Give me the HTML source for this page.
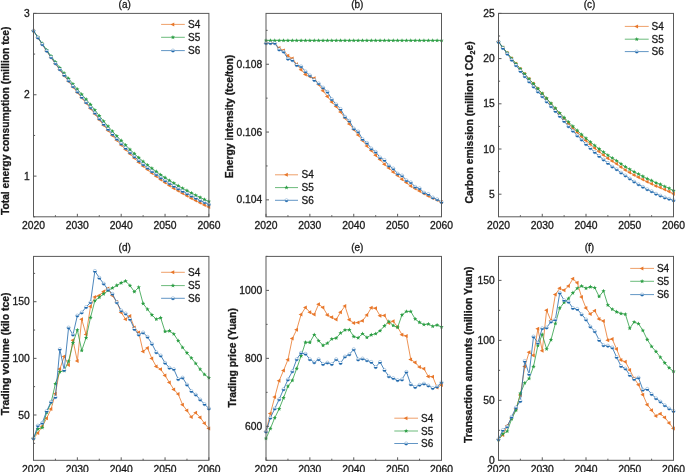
<!DOCTYPE html>
<html><head><meta charset="utf-8"><style>
html,body{margin:0;padding:0;background:#fff;width:685px;height:472px;overflow:hidden}
svg{display:block;will-change:transform}
text{font-family:"Liberation Sans",sans-serif;stroke:#1a1a1a;stroke-width:0.3px}
</style></head><body>
<svg width="685" height="472" viewBox="0 0 685 472" font-family="Liberation Sans, sans-serif">
<rect width="685" height="472" fill="#fff"/>
<text x="124.7" y="7.6" font-size="10" text-anchor="middle" fill="#1a1a1a">(a)</text>
<clipPath id="clipa"><rect x="30.5" y="10.4" width="181.4" height="209.4"/></clipPath>
<g clip-path="url(#clipa)">
<polyline points="33.5,30.7 37.88,37.69 42.27,44.5 46.66,51.12 51.04,57.56 55.42,63.8 59.81,69.82 64.19,75.65 68.58,81.33 72.97,86.91 77.35,92.45 81.73,97.85 86.12,103.12 90.51,108.41 94.89,113.91 99.28,119.78 103.66,125.18 108.05,130.38 112.43,135.39 116.81,140.23 121.2,144.89 125.59,149.43 129.97,153.85 134.36,158.11 138.74,162.17 143.12,166 147.51,169.62 151.9,173.07 156.28,176.36 160.67,179.5 165.05,182.51 169.44,185.39 173.82,188.14 178.2,190.79 182.59,193.34 186.97,195.81 191.36,198.2 195.75,200.52 200.13,202.77 204.52,204.93 208.9,207" fill="none" stroke="#E8772A" stroke-width="0.8" stroke-linejoin="round"/>
<path d="M31,30.7L34.8,28.7L34.8,32.7Z" fill="#E8772A"/>
<path d="M35.38,37.69L39.18,35.69L39.18,39.69Z" fill="#E8772A"/>
<path d="M39.77,44.5L43.57,42.5L43.57,46.5Z" fill="#E8772A"/>
<path d="M44.16,51.12L47.95,49.12L47.95,53.12Z" fill="#E8772A"/>
<path d="M48.54,57.56L52.34,55.56L52.34,59.56Z" fill="#E8772A"/>
<path d="M52.92,63.8L56.72,61.8L56.72,65.8Z" fill="#E8772A"/>
<path d="M57.31,69.82L61.11,67.82L61.11,71.82Z" fill="#E8772A"/>
<path d="M61.69,75.65L65.49,73.65L65.49,77.65Z" fill="#E8772A"/>
<path d="M66.08,81.33L69.88,79.33L69.88,83.33Z" fill="#E8772A"/>
<path d="M70.47,86.91L74.27,84.91L74.27,88.91Z" fill="#E8772A"/>
<path d="M74.85,92.45L78.65,90.45L78.65,94.45Z" fill="#E8772A"/>
<path d="M79.23,97.85L83.03,95.85L83.03,99.85Z" fill="#E8772A"/>
<path d="M83.62,103.12L87.42,101.12L87.42,105.12Z" fill="#E8772A"/>
<path d="M88.01,108.41L91.81,106.41L91.81,110.41Z" fill="#E8772A"/>
<path d="M92.39,113.91L96.19,111.91L96.19,115.91Z" fill="#E8772A"/>
<path d="M96.78,119.78L100.58,117.78L100.58,121.78Z" fill="#E8772A"/>
<path d="M101.16,125.18L104.96,123.18L104.96,127.18Z" fill="#E8772A"/>
<path d="M105.55,130.38L109.34,128.38L109.34,132.38Z" fill="#E8772A"/>
<path d="M109.93,135.39L113.73,133.39L113.73,137.39Z" fill="#E8772A"/>
<path d="M114.31,140.23L118.11,138.23L118.11,142.23Z" fill="#E8772A"/>
<path d="M118.7,144.89L122.5,142.89L122.5,146.89Z" fill="#E8772A"/>
<path d="M123.09,149.43L126.89,147.43L126.89,151.43Z" fill="#E8772A"/>
<path d="M127.47,153.85L131.27,151.85L131.27,155.85Z" fill="#E8772A"/>
<path d="M131.86,158.11L135.66,156.11L135.66,160.11Z" fill="#E8772A"/>
<path d="M136.24,162.17L140.04,160.17L140.04,164.17Z" fill="#E8772A"/>
<path d="M140.62,166L144.43,164L144.43,168Z" fill="#E8772A"/>
<path d="M145.01,169.62L148.81,167.62L148.81,171.62Z" fill="#E8772A"/>
<path d="M149.4,173.07L153.2,171.07L153.2,175.07Z" fill="#E8772A"/>
<path d="M153.78,176.36L157.58,174.36L157.58,178.36Z" fill="#E8772A"/>
<path d="M158.17,179.5L161.97,177.5L161.97,181.5Z" fill="#E8772A"/>
<path d="M162.55,182.51L166.35,180.51L166.35,184.51Z" fill="#E8772A"/>
<path d="M166.94,185.39L170.74,183.39L170.74,187.39Z" fill="#E8772A"/>
<path d="M171.32,188.14L175.12,186.14L175.12,190.14Z" fill="#E8772A"/>
<path d="M175.7,190.79L179.5,188.79L179.5,192.79Z" fill="#E8772A"/>
<path d="M180.09,193.34L183.89,191.34L183.89,195.34Z" fill="#E8772A"/>
<path d="M184.47,195.81L188.28,193.81L188.28,197.81Z" fill="#E8772A"/>
<path d="M188.86,198.2L192.66,196.2L192.66,200.2Z" fill="#E8772A"/>
<path d="M193.25,200.52L197.05,198.52L197.05,202.52Z" fill="#E8772A"/>
<path d="M197.63,202.77L201.43,200.77L201.43,204.77Z" fill="#E8772A"/>
<path d="M202.02,204.93L205.82,202.93L205.82,206.93Z" fill="#E8772A"/>
<path d="M206.4,207L210.2,205L210.2,209Z" fill="#E8772A"/>
<polyline points="33.5,30.7 37.88,37.21 42.27,43.64 46.66,49.93 51.04,56.05 55.42,61.99 59.81,67.72 64.19,73.25 68.58,78.65 72.97,83.96 77.35,89.24 81.73,94.38 86.12,99.39 90.51,104.62 94.89,110.05 99.28,115.85 103.66,121.19 108.05,126.33 112.43,131.27 116.81,136.05 121.2,140.65 125.59,145.13 129.97,149.48 134.36,153.68 138.74,157.68 143.12,161.45 147.51,165 151.9,168.39 156.28,171.62 160.67,174.7 165.05,177.65 169.44,180.47 173.82,183.16 178.2,185.75 182.59,188.24 186.97,190.65 191.36,192.99 195.75,195.25 200.13,197.43 204.52,199.54 208.9,201.55" fill="none" stroke="#2C9E44" stroke-width="0.8" stroke-linejoin="round"/>
<path d="M33.5,28.4L34.09,29.89L35.69,29.99L34.45,31.01L34.85,32.56L33.5,31.7L32.15,32.56L32.55,31.01L31.31,29.99L32.91,29.89Z" fill="#2C9E44"/>
<path d="M37.88,34.91L38.47,36.4L40.07,36.5L38.84,37.52L39.24,39.07L37.88,38.21L36.53,39.07L36.93,37.52L35.7,36.5L37.3,36.4Z" fill="#2C9E44"/>
<path d="M42.27,41.34L42.86,42.83L44.46,42.93L43.22,43.95L43.62,45.5L42.27,44.64L40.92,45.5L41.32,43.95L40.08,42.93L41.68,42.83Z" fill="#2C9E44"/>
<path d="M46.66,47.63L47.24,49.12L48.84,49.22L47.61,50.24L48.01,51.79L46.66,50.93L45.3,51.79L45.7,50.24L44.47,49.22L46.07,49.12Z" fill="#2C9E44"/>
<path d="M51.04,53.75L51.63,55.24L53.23,55.34L51.99,56.36L52.39,57.91L51.04,57.05L49.69,57.91L50.09,56.36L48.85,55.34L50.45,55.24Z" fill="#2C9E44"/>
<path d="M55.42,59.69L56.01,61.18L57.61,61.27L56.38,62.29L56.78,63.85L55.42,62.99L54.07,63.85L54.47,62.29L53.24,61.27L54.84,61.18Z" fill="#2C9E44"/>
<path d="M59.81,65.42L60.4,66.91L62,67L60.76,68.02L61.16,69.58L59.81,68.72L58.46,69.58L58.86,68.02L57.62,67L59.22,66.91Z" fill="#2C9E44"/>
<path d="M64.19,70.95L64.78,72.45L66.38,72.54L65.15,73.56L65.55,75.12L64.19,74.25L62.84,75.12L63.24,73.56L62.01,72.54L63.61,72.45Z" fill="#2C9E44"/>
<path d="M68.58,76.35L69.17,77.85L70.77,77.94L69.53,78.96L69.93,80.51L68.58,79.65L67.23,80.51L67.63,78.96L66.39,77.94L67.99,77.85Z" fill="#2C9E44"/>
<path d="M72.97,81.66L73.55,83.16L75.15,83.25L73.92,84.27L74.32,85.83L72.97,84.96L71.61,85.83L72.01,84.27L70.78,83.25L72.38,83.16Z" fill="#2C9E44"/>
<path d="M77.35,86.94L77.94,88.43L79.54,88.53L78.3,89.55L78.7,91.1L77.35,90.24L76,91.1L76.4,89.55L75.16,88.53L76.76,88.43Z" fill="#2C9E44"/>
<path d="M81.73,92.08L82.32,93.57L83.92,93.67L82.69,94.69L83.09,96.24L81.73,95.38L80.38,96.24L80.78,94.69L79.55,93.67L81.15,93.57Z" fill="#2C9E44"/>
<path d="M86.12,97.09L86.71,98.58L88.31,98.68L87.07,99.7L87.47,101.25L86.12,100.39L84.77,101.25L85.17,99.7L83.93,98.68L85.53,98.58Z" fill="#2C9E44"/>
<path d="M90.51,102.32L91.09,103.81L92.69,103.91L91.46,104.93L91.86,106.48L90.51,105.62L89.15,106.48L89.55,104.93L88.32,103.91L89.92,103.81Z" fill="#2C9E44"/>
<path d="M94.89,107.75L95.48,109.24L97.08,109.34L95.84,110.36L96.24,111.91L94.89,111.05L93.54,111.91L93.94,110.36L92.7,109.34L94.3,109.24Z" fill="#2C9E44"/>
<path d="M99.28,113.55L99.86,115.04L101.46,115.14L100.23,116.16L100.63,117.71L99.28,116.85L97.92,117.71L98.32,116.16L97.09,115.14L98.69,115.04Z" fill="#2C9E44"/>
<path d="M103.66,118.89L104.25,120.38L105.85,120.48L104.61,121.5L105.01,123.05L103.66,122.19L102.31,123.05L102.71,121.5L101.47,120.48L103.07,120.38Z" fill="#2C9E44"/>
<path d="M108.05,124.03L108.63,125.52L110.23,125.61L109,126.63L109.4,128.19L108.05,127.33L106.69,128.19L107.09,126.63L105.86,125.61L107.46,125.52Z" fill="#2C9E44"/>
<path d="M112.43,128.97L113.02,130.47L114.62,130.56L113.38,131.58L113.78,133.14L112.43,132.27L111.08,133.14L111.48,131.58L110.24,130.56L111.84,130.47Z" fill="#2C9E44"/>
<path d="M116.81,133.75L117.4,135.24L119,135.33L117.77,136.35L118.17,137.91L116.81,137.05L115.46,137.91L115.86,136.35L114.63,135.33L116.23,135.24Z" fill="#2C9E44"/>
<path d="M121.2,138.35L121.79,139.84L123.39,139.94L122.15,140.96L122.55,142.51L121.2,141.65L119.85,142.51L120.25,140.96L119.01,139.94L120.61,139.84Z" fill="#2C9E44"/>
<path d="M125.59,142.83L126.17,144.32L127.77,144.42L126.54,145.44L126.94,146.99L125.59,146.13L124.23,146.99L124.63,145.44L123.4,144.42L125,144.32Z" fill="#2C9E44"/>
<path d="M129.97,147.18L130.56,148.67L132.16,148.77L130.92,149.79L131.32,151.34L129.97,150.48L128.62,151.34L129.02,149.79L127.78,148.77L129.38,148.67Z" fill="#2C9E44"/>
<path d="M134.36,151.38L134.94,152.87L136.54,152.97L135.31,153.99L135.71,155.54L134.36,154.68L133,155.54L133.4,153.99L132.17,152.97L133.77,152.87Z" fill="#2C9E44"/>
<path d="M138.74,155.38L139.33,156.87L140.93,156.97L139.69,157.99L140.09,159.54L138.74,158.68L137.39,159.54L137.79,157.99L136.55,156.97L138.15,156.87Z" fill="#2C9E44"/>
<path d="M143.12,159.15L143.71,160.64L145.31,160.74L144.08,161.76L144.48,163.31L143.12,162.45L141.77,163.31L142.17,161.76L140.94,160.74L142.54,160.64Z" fill="#2C9E44"/>
<path d="M147.51,162.7L148.1,164.2L149.7,164.29L148.46,165.31L148.86,166.87L147.51,166L146.16,166.87L146.56,165.31L145.32,164.29L146.92,164.2Z" fill="#2C9E44"/>
<path d="M151.9,166.09L152.48,167.58L154.08,167.68L152.85,168.7L153.25,170.25L151.9,169.39L150.54,170.25L150.94,168.7L149.71,167.68L151.31,167.58Z" fill="#2C9E44"/>
<path d="M156.28,169.32L156.87,170.81L158.47,170.91L157.23,171.93L157.63,173.48L156.28,172.62L154.93,173.48L155.33,171.93L154.09,170.91L155.69,170.81Z" fill="#2C9E44"/>
<path d="M160.67,172.4L161.25,173.89L162.85,173.99L161.62,175.01L162.02,176.56L160.67,175.7L159.31,176.56L159.71,175.01L158.48,173.99L160.08,173.89Z" fill="#2C9E44"/>
<path d="M165.05,175.35L165.64,176.84L167.24,176.94L166,177.96L166.4,179.51L165.05,178.65L163.7,179.51L164.1,177.96L162.86,176.94L164.46,176.84Z" fill="#2C9E44"/>
<path d="M169.44,178.17L170.02,179.66L171.62,179.76L170.39,180.78L170.79,182.33L169.44,181.47L168.08,182.33L168.48,180.78L167.25,179.76L168.85,179.66Z" fill="#2C9E44"/>
<path d="M173.82,180.86L174.41,182.36L176.01,182.45L174.77,183.47L175.17,185.03L173.82,184.16L172.47,185.03L172.87,183.47L171.63,182.45L173.23,182.36Z" fill="#2C9E44"/>
<path d="M178.2,183.45L178.79,184.94L180.39,185.04L179.16,186.06L179.56,187.61L178.2,186.75L176.85,187.61L177.25,186.06L176.02,185.04L177.62,184.94Z" fill="#2C9E44"/>
<path d="M182.59,185.94L183.18,187.43L184.78,187.53L183.54,188.55L183.94,190.1L182.59,189.24L181.24,190.1L181.64,188.55L180.4,187.53L182,187.43Z" fill="#2C9E44"/>
<path d="M186.97,188.35L187.56,189.84L189.16,189.94L187.93,190.96L188.33,192.51L186.97,191.65L185.62,192.51L186.02,190.96L184.79,189.94L186.39,189.84Z" fill="#2C9E44"/>
<path d="M191.36,190.69L191.95,192.18L193.55,192.28L192.31,193.3L192.71,194.85L191.36,193.99L190.01,194.85L190.41,193.3L189.17,192.28L190.77,192.18Z" fill="#2C9E44"/>
<path d="M195.75,192.95L196.33,194.44L197.93,194.54L196.7,195.56L197.1,197.11L195.75,196.25L194.39,197.11L194.79,195.56L193.56,194.54L195.16,194.44Z" fill="#2C9E44"/>
<path d="M200.13,195.13L200.72,196.62L202.32,196.72L201.08,197.74L201.48,199.29L200.13,198.43L198.78,199.29L199.18,197.74L197.94,196.72L199.54,196.62Z" fill="#2C9E44"/>
<path d="M204.52,197.24L205.1,198.73L206.7,198.82L205.47,199.84L205.87,201.4L204.52,200.54L203.16,201.4L203.56,199.84L202.33,198.82L203.93,198.73Z" fill="#2C9E44"/>
<path d="M208.9,199.25L209.49,200.74L211.09,200.84L209.85,201.86L210.25,203.41L208.9,202.55L207.55,203.41L207.95,201.86L206.71,200.84L208.31,200.74Z" fill="#2C9E44"/>
<polyline points="33.5,30.7 37.88,37.6 42.27,44.32 46.66,50.87 51.04,57.23 55.42,63.4 59.81,69.35 64.19,75.11 68.58,80.71 72.97,86.23 77.35,91.7 81.73,97.04 86.12,102.24 90.51,107.47 94.89,112.9 99.28,118.7 103.66,124.04 108.05,129.18 112.43,134.12 116.81,138.9 121.2,143.5 125.59,147.98 129.97,152.33 134.36,156.53 138.74,160.53 143.12,164.3 147.51,167.85 151.9,171.24 156.28,174.47 160.67,177.55 165.05,180.5 169.44,183.32 173.82,186.01 178.2,188.6 182.59,191.09 186.97,193.5 191.36,195.84 195.75,198.1 200.13,200.28 204.52,202.39 208.9,204.4" fill="none" stroke="#1F68AC" stroke-width="0.8" stroke-linejoin="round"/>
<circle cx="33.5" cy="30.7" r="1.65" fill="#fff" stroke="#1F68AC" stroke-opacity="0.6" stroke-width="0.5"/><path d="M31.75,30.6A1.75,1.75 0 0 0 35.25,30.6Z" fill="#1F68AC"/>
<circle cx="37.88" cy="37.6" r="1.65" fill="#fff" stroke="#1F68AC" stroke-opacity="0.6" stroke-width="0.5"/><path d="M36.13,37.5A1.75,1.75 0 0 0 39.63,37.5Z" fill="#1F68AC"/>
<circle cx="42.27" cy="44.32" r="1.65" fill="#fff" stroke="#1F68AC" stroke-opacity="0.6" stroke-width="0.5"/><path d="M40.52,44.22A1.75,1.75 0 0 0 44.02,44.22Z" fill="#1F68AC"/>
<circle cx="46.66" cy="50.87" r="1.65" fill="#fff" stroke="#1F68AC" stroke-opacity="0.6" stroke-width="0.5"/><path d="M44.91,50.77A1.75,1.75 0 0 0 48.41,50.77Z" fill="#1F68AC"/>
<circle cx="51.04" cy="57.23" r="1.65" fill="#fff" stroke="#1F68AC" stroke-opacity="0.6" stroke-width="0.5"/><path d="M49.29,57.13A1.75,1.75 0 0 0 52.79,57.13Z" fill="#1F68AC"/>
<circle cx="55.42" cy="63.4" r="1.65" fill="#fff" stroke="#1F68AC" stroke-opacity="0.6" stroke-width="0.5"/><path d="M53.67,63.3A1.75,1.75 0 0 0 57.17,63.3Z" fill="#1F68AC"/>
<circle cx="59.81" cy="69.35" r="1.65" fill="#fff" stroke="#1F68AC" stroke-opacity="0.6" stroke-width="0.5"/><path d="M58.06,69.25A1.75,1.75 0 0 0 61.56,69.25Z" fill="#1F68AC"/>
<circle cx="64.19" cy="75.11" r="1.65" fill="#fff" stroke="#1F68AC" stroke-opacity="0.6" stroke-width="0.5"/><path d="M62.44,75.01A1.75,1.75 0 0 0 65.94,75.01Z" fill="#1F68AC"/>
<circle cx="68.58" cy="80.71" r="1.65" fill="#fff" stroke="#1F68AC" stroke-opacity="0.6" stroke-width="0.5"/><path d="M66.83,80.61A1.75,1.75 0 0 0 70.33,80.61Z" fill="#1F68AC"/>
<circle cx="72.97" cy="86.23" r="1.65" fill="#fff" stroke="#1F68AC" stroke-opacity="0.6" stroke-width="0.5"/><path d="M71.22,86.13A1.75,1.75 0 0 0 74.72,86.13Z" fill="#1F68AC"/>
<circle cx="77.35" cy="91.7" r="1.65" fill="#fff" stroke="#1F68AC" stroke-opacity="0.6" stroke-width="0.5"/><path d="M75.6,91.6A1.75,1.75 0 0 0 79.1,91.6Z" fill="#1F68AC"/>
<circle cx="81.73" cy="97.04" r="1.65" fill="#fff" stroke="#1F68AC" stroke-opacity="0.6" stroke-width="0.5"/><path d="M79.98,96.94A1.75,1.75 0 0 0 83.48,96.94Z" fill="#1F68AC"/>
<circle cx="86.12" cy="102.24" r="1.65" fill="#fff" stroke="#1F68AC" stroke-opacity="0.6" stroke-width="0.5"/><path d="M84.37,102.14A1.75,1.75 0 0 0 87.87,102.14Z" fill="#1F68AC"/>
<circle cx="90.51" cy="107.47" r="1.65" fill="#fff" stroke="#1F68AC" stroke-opacity="0.6" stroke-width="0.5"/><path d="M88.76,107.37A1.75,1.75 0 0 0 92.26,107.37Z" fill="#1F68AC"/>
<circle cx="94.89" cy="112.9" r="1.65" fill="#fff" stroke="#1F68AC" stroke-opacity="0.6" stroke-width="0.5"/><path d="M93.14,112.8A1.75,1.75 0 0 0 96.64,112.8Z" fill="#1F68AC"/>
<circle cx="99.28" cy="118.7" r="1.65" fill="#fff" stroke="#1F68AC" stroke-opacity="0.6" stroke-width="0.5"/><path d="M97.53,118.6A1.75,1.75 0 0 0 101.03,118.6Z" fill="#1F68AC"/>
<circle cx="103.66" cy="124.04" r="1.65" fill="#fff" stroke="#1F68AC" stroke-opacity="0.6" stroke-width="0.5"/><path d="M101.91,123.94A1.75,1.75 0 0 0 105.41,123.94Z" fill="#1F68AC"/>
<circle cx="108.05" cy="129.18" r="1.65" fill="#fff" stroke="#1F68AC" stroke-opacity="0.6" stroke-width="0.5"/><path d="M106.3,129.08A1.75,1.75 0 0 0 109.8,129.08Z" fill="#1F68AC"/>
<circle cx="112.43" cy="134.12" r="1.65" fill="#fff" stroke="#1F68AC" stroke-opacity="0.6" stroke-width="0.5"/><path d="M110.68,134.02A1.75,1.75 0 0 0 114.18,134.02Z" fill="#1F68AC"/>
<circle cx="116.81" cy="138.9" r="1.65" fill="#fff" stroke="#1F68AC" stroke-opacity="0.6" stroke-width="0.5"/><path d="M115.06,138.8A1.75,1.75 0 0 0 118.56,138.8Z" fill="#1F68AC"/>
<circle cx="121.2" cy="143.5" r="1.65" fill="#fff" stroke="#1F68AC" stroke-opacity="0.6" stroke-width="0.5"/><path d="M119.45,143.4A1.75,1.75 0 0 0 122.95,143.4Z" fill="#1F68AC"/>
<circle cx="125.59" cy="147.98" r="1.65" fill="#fff" stroke="#1F68AC" stroke-opacity="0.6" stroke-width="0.5"/><path d="M123.84,147.88A1.75,1.75 0 0 0 127.34,147.88Z" fill="#1F68AC"/>
<circle cx="129.97" cy="152.33" r="1.65" fill="#fff" stroke="#1F68AC" stroke-opacity="0.6" stroke-width="0.5"/><path d="M128.22,152.23A1.75,1.75 0 0 0 131.72,152.23Z" fill="#1F68AC"/>
<circle cx="134.36" cy="156.53" r="1.65" fill="#fff" stroke="#1F68AC" stroke-opacity="0.6" stroke-width="0.5"/><path d="M132.61,156.43A1.75,1.75 0 0 0 136.11,156.43Z" fill="#1F68AC"/>
<circle cx="138.74" cy="160.53" r="1.65" fill="#fff" stroke="#1F68AC" stroke-opacity="0.6" stroke-width="0.5"/><path d="M136.99,160.43A1.75,1.75 0 0 0 140.49,160.43Z" fill="#1F68AC"/>
<circle cx="143.12" cy="164.3" r="1.65" fill="#fff" stroke="#1F68AC" stroke-opacity="0.6" stroke-width="0.5"/><path d="M141.38,164.2A1.75,1.75 0 0 0 144.88,164.2Z" fill="#1F68AC"/>
<circle cx="147.51" cy="167.85" r="1.65" fill="#fff" stroke="#1F68AC" stroke-opacity="0.6" stroke-width="0.5"/><path d="M145.76,167.75A1.75,1.75 0 0 0 149.26,167.75Z" fill="#1F68AC"/>
<circle cx="151.9" cy="171.24" r="1.65" fill="#fff" stroke="#1F68AC" stroke-opacity="0.6" stroke-width="0.5"/><path d="M150.15,171.14A1.75,1.75 0 0 0 153.65,171.14Z" fill="#1F68AC"/>
<circle cx="156.28" cy="174.47" r="1.65" fill="#fff" stroke="#1F68AC" stroke-opacity="0.6" stroke-width="0.5"/><path d="M154.53,174.37A1.75,1.75 0 0 0 158.03,174.37Z" fill="#1F68AC"/>
<circle cx="160.67" cy="177.55" r="1.65" fill="#fff" stroke="#1F68AC" stroke-opacity="0.6" stroke-width="0.5"/><path d="M158.92,177.45A1.75,1.75 0 0 0 162.42,177.45Z" fill="#1F68AC"/>
<circle cx="165.05" cy="180.5" r="1.65" fill="#fff" stroke="#1F68AC" stroke-opacity="0.6" stroke-width="0.5"/><path d="M163.3,180.4A1.75,1.75 0 0 0 166.8,180.4Z" fill="#1F68AC"/>
<circle cx="169.44" cy="183.32" r="1.65" fill="#fff" stroke="#1F68AC" stroke-opacity="0.6" stroke-width="0.5"/><path d="M167.69,183.22A1.75,1.75 0 0 0 171.19,183.22Z" fill="#1F68AC"/>
<circle cx="173.82" cy="186.01" r="1.65" fill="#fff" stroke="#1F68AC" stroke-opacity="0.6" stroke-width="0.5"/><path d="M172.07,185.91A1.75,1.75 0 0 0 175.57,185.91Z" fill="#1F68AC"/>
<circle cx="178.2" cy="188.6" r="1.65" fill="#fff" stroke="#1F68AC" stroke-opacity="0.6" stroke-width="0.5"/><path d="M176.45,188.5A1.75,1.75 0 0 0 179.95,188.5Z" fill="#1F68AC"/>
<circle cx="182.59" cy="191.09" r="1.65" fill="#fff" stroke="#1F68AC" stroke-opacity="0.6" stroke-width="0.5"/><path d="M180.84,190.99A1.75,1.75 0 0 0 184.34,190.99Z" fill="#1F68AC"/>
<circle cx="186.97" cy="193.5" r="1.65" fill="#fff" stroke="#1F68AC" stroke-opacity="0.6" stroke-width="0.5"/><path d="M185.22,193.4A1.75,1.75 0 0 0 188.72,193.4Z" fill="#1F68AC"/>
<circle cx="191.36" cy="195.84" r="1.65" fill="#fff" stroke="#1F68AC" stroke-opacity="0.6" stroke-width="0.5"/><path d="M189.61,195.74A1.75,1.75 0 0 0 193.11,195.74Z" fill="#1F68AC"/>
<circle cx="195.75" cy="198.1" r="1.65" fill="#fff" stroke="#1F68AC" stroke-opacity="0.6" stroke-width="0.5"/><path d="M194,198A1.75,1.75 0 0 0 197.5,198Z" fill="#1F68AC"/>
<circle cx="200.13" cy="200.28" r="1.65" fill="#fff" stroke="#1F68AC" stroke-opacity="0.6" stroke-width="0.5"/><path d="M198.38,200.18A1.75,1.75 0 0 0 201.88,200.18Z" fill="#1F68AC"/>
<circle cx="204.52" cy="202.39" r="1.65" fill="#fff" stroke="#1F68AC" stroke-opacity="0.6" stroke-width="0.5"/><path d="M202.77,202.29A1.75,1.75 0 0 0 206.27,202.29Z" fill="#1F68AC"/>
<circle cx="208.9" cy="204.4" r="1.65" fill="#fff" stroke="#1F68AC" stroke-opacity="0.6" stroke-width="0.5"/><path d="M207.15,204.3A1.75,1.75 0 0 0 210.65,204.3Z" fill="#1F68AC"/>
</g>
<rect x="33.5" y="13.4" width="175.4" height="203.4" fill="none" stroke="#5a5a5a" stroke-width="1"/>
<line x1="33.5" y1="216.8" x2="33.5" y2="213.8" stroke="#5a5a5a" stroke-width="1"/>
<text x="33.5" y="229.1" font-size="10.35" text-anchor="middle" fill="#1a1a1a">2020</text>
<line x1="55.42" y1="216.8" x2="55.42" y2="215.2" stroke="#5a5a5a" stroke-width="1"/>
<line x1="77.35" y1="216.8" x2="77.35" y2="213.8" stroke="#5a5a5a" stroke-width="1"/>
<text x="77.35" y="229.1" font-size="10.35" text-anchor="middle" fill="#1a1a1a">2030</text>
<line x1="99.28" y1="216.8" x2="99.28" y2="215.2" stroke="#5a5a5a" stroke-width="1"/>
<line x1="121.2" y1="216.8" x2="121.2" y2="213.8" stroke="#5a5a5a" stroke-width="1"/>
<text x="121.2" y="229.1" font-size="10.35" text-anchor="middle" fill="#1a1a1a">2040</text>
<line x1="143.12" y1="216.8" x2="143.12" y2="215.2" stroke="#5a5a5a" stroke-width="1"/>
<line x1="165.05" y1="216.8" x2="165.05" y2="213.8" stroke="#5a5a5a" stroke-width="1"/>
<text x="165.05" y="229.1" font-size="10.35" text-anchor="middle" fill="#1a1a1a">2050</text>
<line x1="186.97" y1="216.8" x2="186.97" y2="215.2" stroke="#5a5a5a" stroke-width="1"/>
<line x1="208.9" y1="216.8" x2="208.9" y2="213.8" stroke="#5a5a5a" stroke-width="1"/>
<text x="208.9" y="229.1" font-size="10.35" text-anchor="middle" fill="#1a1a1a">2060</text>
<line x1="33.5" y1="176.12" x2="36.5" y2="176.12" stroke="#5a5a5a" stroke-width="1"/>
<text x="29.7" y="179.72" font-size="10.3" text-anchor="end" fill="#1a1a1a">1</text>
<line x1="33.5" y1="94.76" x2="36.5" y2="94.76" stroke="#5a5a5a" stroke-width="1"/>
<text x="29.7" y="98.36" font-size="10.3" text-anchor="end" fill="#1a1a1a">2</text>
<line x1="33.5" y1="13.4" x2="36.5" y2="13.4" stroke="#5a5a5a" stroke-width="1"/>
<text x="29.7" y="17" font-size="10.3" text-anchor="end" fill="#1a1a1a">3</text>
<line x1="33.5" y1="216.8" x2="35.1" y2="216.8" stroke="#5a5a5a" stroke-width="1"/>
<line x1="33.5" y1="135.44" x2="35.1" y2="135.44" stroke="#5a5a5a" stroke-width="1"/>
<line x1="33.5" y1="54.08" x2="35.1" y2="54.08" stroke="#5a5a5a" stroke-width="1"/>
<text transform="translate(8.8,120.8) rotate(-90)" font-size="10.3" font-weight="bold" stroke-width="0.1" text-anchor="middle" fill="#1a1a1a">Total energy consumption (million tce)</text>
<line x1="161.1" y1="24.4" x2="184.8" y2="24.4" stroke="#E8772A" stroke-width="0.7"/>
<path d="M170.45,24.4L174.25,22.4L174.25,26.4Z" fill="#E8772A"/>
<text x="188.0" y="28" font-size="10" fill="#1a1a1a">S4</text>
<line x1="161.1" y1="37.3" x2="184.8" y2="37.3" stroke="#2C9E44" stroke-width="0.7"/>
<path d="M172.95,35L173.54,36.49L175.14,36.59L173.9,37.61L174.3,39.16L172.95,38.3L171.6,39.16L172,37.61L170.76,36.59L172.36,36.49Z" fill="#2C9E44"/>
<text x="188.0" y="40.9" font-size="10" fill="#1a1a1a">S5</text>
<line x1="161.1" y1="50.6" x2="184.8" y2="50.6" stroke="#1F68AC" stroke-width="0.7"/>
<circle cx="172.95" cy="50.6" r="1.65" fill="#fff" stroke="#1F68AC" stroke-opacity="0.6" stroke-width="0.5"/><path d="M171.2,50.5A1.75,1.75 0 0 0 174.7,50.5Z" fill="#1F68AC"/>
<text x="188.0" y="54.2" font-size="10" fill="#1a1a1a">S6</text>
<text x="357.25" y="7.6" font-size="10" text-anchor="middle" fill="#1a1a1a">(b)</text>
<clipPath id="clipb"><rect x="263.0" y="10.4" width="181.5" height="209.4"/></clipPath>
<g clip-path="url(#clipb)">
<polyline points="266,43.2 270.39,43.2 274.77,43.2 279.16,48.1 283.55,50.5 287.94,55.7 292.32,58.5 296.71,64.3 301.1,69.7 305.49,74.4 309.88,76.4 314.26,78.3 318.65,84.4 323.04,90.8 327.43,96.4 331.81,101.9 336.2,106.6 340.59,112 344.98,118 349.36,123.9 353.75,129.4 358.14,134.9 362.52,140.4 366.91,145.9 371.3,150.6 375.69,155.3 380.07,159.5 384.46,164.2 388.85,168.1 393.24,172 397.62,175.6 402.01,179.2 406.4,182.6 410.79,186.1 415.18,188.5 419.56,191 423.95,193.5 428.34,196.1 432.73,198 437.11,199.9 441.5,202.1" fill="none" stroke="#E8772A" stroke-width="0.8" stroke-linejoin="round"/>
<path d="M263.5,43.2L267.3,41.2L267.3,45.2Z" fill="#E8772A"/>
<path d="M267.89,43.2L271.69,41.2L271.69,45.2Z" fill="#E8772A"/>
<path d="M272.27,43.2L276.07,41.2L276.07,45.2Z" fill="#E8772A"/>
<path d="M276.66,48.1L280.46,46.1L280.46,50.1Z" fill="#E8772A"/>
<path d="M281.05,50.5L284.85,48.5L284.85,52.5Z" fill="#E8772A"/>
<path d="M285.44,55.7L289.24,53.7L289.24,57.7Z" fill="#E8772A"/>
<path d="M289.82,58.5L293.62,56.5L293.62,60.5Z" fill="#E8772A"/>
<path d="M294.21,64.3L298.01,62.3L298.01,66.3Z" fill="#E8772A"/>
<path d="M298.6,69.7L302.4,67.7L302.4,71.7Z" fill="#E8772A"/>
<path d="M302.99,74.4L306.79,72.4L306.79,76.4Z" fill="#E8772A"/>
<path d="M307.38,76.4L311.18,74.4L311.18,78.4Z" fill="#E8772A"/>
<path d="M311.76,78.3L315.56,76.3L315.56,80.3Z" fill="#E8772A"/>
<path d="M316.15,84.4L319.95,82.4L319.95,86.4Z" fill="#E8772A"/>
<path d="M320.54,90.8L324.34,88.8L324.34,92.8Z" fill="#E8772A"/>
<path d="M324.93,96.4L328.73,94.4L328.73,98.4Z" fill="#E8772A"/>
<path d="M329.31,101.9L333.11,99.9L333.11,103.9Z" fill="#E8772A"/>
<path d="M333.7,106.6L337.5,104.6L337.5,108.6Z" fill="#E8772A"/>
<path d="M338.09,112L341.89,110L341.89,114Z" fill="#E8772A"/>
<path d="M342.48,118L346.28,116L346.28,120Z" fill="#E8772A"/>
<path d="M346.86,123.9L350.66,121.9L350.66,125.9Z" fill="#E8772A"/>
<path d="M351.25,129.4L355.05,127.4L355.05,131.4Z" fill="#E8772A"/>
<path d="M355.64,134.9L359.44,132.9L359.44,136.9Z" fill="#E8772A"/>
<path d="M360.02,140.4L363.82,138.4L363.82,142.4Z" fill="#E8772A"/>
<path d="M364.41,145.9L368.21,143.9L368.21,147.9Z" fill="#E8772A"/>
<path d="M368.8,150.6L372.6,148.6L372.6,152.6Z" fill="#E8772A"/>
<path d="M373.19,155.3L376.99,153.3L376.99,157.3Z" fill="#E8772A"/>
<path d="M377.57,159.5L381.38,157.5L381.38,161.5Z" fill="#E8772A"/>
<path d="M381.96,164.2L385.76,162.2L385.76,166.2Z" fill="#E8772A"/>
<path d="M386.35,168.1L390.15,166.1L390.15,170.1Z" fill="#E8772A"/>
<path d="M390.74,172L394.54,170L394.54,174Z" fill="#E8772A"/>
<path d="M395.12,175.6L398.93,173.6L398.93,177.6Z" fill="#E8772A"/>
<path d="M399.51,179.2L403.31,177.2L403.31,181.2Z" fill="#E8772A"/>
<path d="M403.9,182.6L407.7,180.6L407.7,184.6Z" fill="#E8772A"/>
<path d="M408.29,186.1L412.09,184.1L412.09,188.1Z" fill="#E8772A"/>
<path d="M412.68,188.5L416.48,186.5L416.48,190.5Z" fill="#E8772A"/>
<path d="M417.06,191L420.86,189L420.86,193Z" fill="#E8772A"/>
<path d="M421.45,193.5L425.25,191.5L425.25,195.5Z" fill="#E8772A"/>
<path d="M425.84,196.1L429.64,194.1L429.64,198.1Z" fill="#E8772A"/>
<path d="M430.23,198L434.03,196L434.03,200Z" fill="#E8772A"/>
<path d="M434.61,199.9L438.41,197.9L438.41,201.9Z" fill="#E8772A"/>
<path d="M439,202.1L442.8,200.1L442.8,204.1Z" fill="#E8772A"/>
<polyline points="266,40.5 270.39,40.5 274.77,40.5 279.16,40.5 283.55,40.5 287.94,40.5 292.32,40.5 296.71,40.5 301.1,40.5 305.49,40.5 309.88,40.5 314.26,40.5 318.65,40.5 323.04,40.5 327.43,40.5 331.81,40.5 336.2,40.5 340.59,40.5 344.98,40.5 349.36,40.5 353.75,40.5 358.14,40.5 362.52,40.5 366.91,40.5 371.3,40.5 375.69,40.5 380.07,40.5 384.46,40.5 388.85,40.5 393.24,40.5 397.62,40.5 402.01,40.5 406.4,40.5 410.79,40.5 415.18,40.5 419.56,40.5 423.95,40.5 428.34,40.5 432.73,40.5 437.11,40.5 441.5,40.5" fill="none" stroke="#2C9E44" stroke-width="0.8" stroke-linejoin="round"/>
<path d="M266,38.2L266.59,39.69L268.19,39.79L266.95,40.81L267.35,42.36L266,41.5L264.65,42.36L265.05,40.81L263.81,39.79L265.41,39.69Z" fill="#2C9E44"/>
<path d="M270.39,38.2L270.98,39.69L272.57,39.79L271.34,40.81L271.74,42.36L270.39,41.5L269.04,42.36L269.44,40.81L268.2,39.79L269.8,39.69Z" fill="#2C9E44"/>
<path d="M274.77,38.2L275.36,39.69L276.96,39.79L275.73,40.81L276.13,42.36L274.77,41.5L273.42,42.36L273.82,40.81L272.59,39.79L274.19,39.69Z" fill="#2C9E44"/>
<path d="M279.16,38.2L279.75,39.69L281.35,39.79L280.11,40.81L280.51,42.36L279.16,41.5L277.81,42.36L278.21,40.81L276.98,39.79L278.57,39.69Z" fill="#2C9E44"/>
<path d="M283.55,38.2L284.14,39.69L285.74,39.79L284.5,40.81L284.9,42.36L283.55,41.5L282.2,42.36L282.6,40.81L281.36,39.79L282.96,39.69Z" fill="#2C9E44"/>
<path d="M287.94,38.2L288.53,39.69L290.12,39.79L288.89,40.81L289.29,42.36L287.94,41.5L286.59,42.36L286.99,40.81L285.75,39.79L287.35,39.69Z" fill="#2C9E44"/>
<path d="M292.32,38.2L292.91,39.69L294.51,39.79L293.28,40.81L293.68,42.36L292.32,41.5L290.97,42.36L291.37,40.81L290.14,39.79L291.74,39.69Z" fill="#2C9E44"/>
<path d="M296.71,38.2L297.3,39.69L298.9,39.79L297.66,40.81L298.06,42.36L296.71,41.5L295.36,42.36L295.76,40.81L294.53,39.79L296.12,39.69Z" fill="#2C9E44"/>
<path d="M301.1,38.2L301.69,39.69L303.29,39.79L302.05,40.81L302.45,42.36L301.1,41.5L299.75,42.36L300.15,40.81L298.91,39.79L300.51,39.69Z" fill="#2C9E44"/>
<path d="M305.49,38.2L306.08,39.69L307.67,39.79L306.44,40.81L306.84,42.36L305.49,41.5L304.14,42.36L304.54,40.81L303.3,39.79L304.9,39.69Z" fill="#2C9E44"/>
<path d="M309.88,38.2L310.46,39.69L312.06,39.79L310.83,40.81L311.23,42.36L309.88,41.5L308.52,42.36L308.92,40.81L307.69,39.79L309.29,39.69Z" fill="#2C9E44"/>
<path d="M314.26,38.2L314.85,39.69L316.45,39.79L315.21,40.81L315.61,42.36L314.26,41.5L312.91,42.36L313.31,40.81L312.08,39.79L313.67,39.69Z" fill="#2C9E44"/>
<path d="M318.65,38.2L319.24,39.69L320.84,39.79L319.6,40.81L320,42.36L318.65,41.5L317.3,42.36L317.7,40.81L316.46,39.79L318.06,39.69Z" fill="#2C9E44"/>
<path d="M323.04,38.2L323.63,39.69L325.22,39.79L323.99,40.81L324.39,42.36L323.04,41.5L321.69,42.36L322.09,40.81L320.85,39.79L322.45,39.69Z" fill="#2C9E44"/>
<path d="M327.43,38.2L328.01,39.69L329.61,39.79L328.38,40.81L328.78,42.36L327.43,41.5L326.07,42.36L326.47,40.81L325.24,39.79L326.84,39.69Z" fill="#2C9E44"/>
<path d="M331.81,38.2L332.4,39.69L334,39.79L332.76,40.81L333.16,42.36L331.81,41.5L330.46,42.36L330.86,40.81L329.63,39.79L331.22,39.69Z" fill="#2C9E44"/>
<path d="M336.2,38.2L336.79,39.69L338.39,39.79L337.15,40.81L337.55,42.36L336.2,41.5L334.85,42.36L335.25,40.81L334.01,39.79L335.61,39.69Z" fill="#2C9E44"/>
<path d="M340.59,38.2L341.18,39.69L342.77,39.79L341.54,40.81L341.94,42.36L340.59,41.5L339.24,42.36L339.64,40.81L338.4,39.79L340,39.69Z" fill="#2C9E44"/>
<path d="M344.98,38.2L345.56,39.69L347.16,39.79L345.93,40.81L346.33,42.36L344.98,41.5L343.62,42.36L344.02,40.81L342.79,39.79L344.39,39.69Z" fill="#2C9E44"/>
<path d="M349.36,38.2L349.95,39.69L351.55,39.79L350.31,40.81L350.71,42.36L349.36,41.5L348.01,42.36L348.41,40.81L347.18,39.79L348.77,39.69Z" fill="#2C9E44"/>
<path d="M353.75,38.2L354.34,39.69L355.94,39.79L354.7,40.81L355.1,42.36L353.75,41.5L352.4,42.36L352.8,40.81L351.56,39.79L353.16,39.69Z" fill="#2C9E44"/>
<path d="M358.14,38.2L358.73,39.69L360.32,39.79L359.09,40.81L359.49,42.36L358.14,41.5L356.79,42.36L357.19,40.81L355.95,39.79L357.55,39.69Z" fill="#2C9E44"/>
<path d="M362.52,38.2L363.11,39.69L364.71,39.79L363.48,40.81L363.88,42.36L362.52,41.5L361.17,42.36L361.57,40.81L360.34,39.79L361.94,39.69Z" fill="#2C9E44"/>
<path d="M366.91,38.2L367.5,39.69L369.1,39.79L367.86,40.81L368.26,42.36L366.91,41.5L365.56,42.36L365.96,40.81L364.73,39.79L366.32,39.69Z" fill="#2C9E44"/>
<path d="M371.3,38.2L371.89,39.69L373.49,39.79L372.25,40.81L372.65,42.36L371.3,41.5L369.95,42.36L370.35,40.81L369.11,39.79L370.71,39.69Z" fill="#2C9E44"/>
<path d="M375.69,38.2L376.28,39.69L377.87,39.79L376.64,40.81L377.04,42.36L375.69,41.5L374.34,42.36L374.74,40.81L373.5,39.79L375.1,39.69Z" fill="#2C9E44"/>
<path d="M380.07,38.2L380.66,39.69L382.26,39.79L381.03,40.81L381.43,42.36L380.07,41.5L378.72,42.36L379.12,40.81L377.89,39.79L379.49,39.69Z" fill="#2C9E44"/>
<path d="M384.46,38.2L385.05,39.69L386.65,39.79L385.41,40.81L385.81,42.36L384.46,41.5L383.11,42.36L383.51,40.81L382.28,39.79L383.87,39.69Z" fill="#2C9E44"/>
<path d="M388.85,38.2L389.44,39.69L391.04,39.79L389.8,40.81L390.2,42.36L388.85,41.5L387.5,42.36L387.9,40.81L386.66,39.79L388.26,39.69Z" fill="#2C9E44"/>
<path d="M393.24,38.2L393.83,39.69L395.42,39.79L394.19,40.81L394.59,42.36L393.24,41.5L391.89,42.36L392.29,40.81L391.05,39.79L392.65,39.69Z" fill="#2C9E44"/>
<path d="M397.62,38.2L398.21,39.69L399.81,39.79L398.58,40.81L398.98,42.36L397.62,41.5L396.27,42.36L396.67,40.81L395.44,39.79L397.04,39.69Z" fill="#2C9E44"/>
<path d="M402.01,38.2L402.6,39.69L404.2,39.79L402.96,40.81L403.36,42.36L402.01,41.5L400.66,42.36L401.06,40.81L399.83,39.79L401.42,39.69Z" fill="#2C9E44"/>
<path d="M406.4,38.2L406.99,39.69L408.59,39.79L407.35,40.81L407.75,42.36L406.4,41.5L405.05,42.36L405.45,40.81L404.21,39.79L405.81,39.69Z" fill="#2C9E44"/>
<path d="M410.79,38.2L411.38,39.69L412.97,39.79L411.74,40.81L412.14,42.36L410.79,41.5L409.44,42.36L409.84,40.81L408.6,39.79L410.2,39.69Z" fill="#2C9E44"/>
<path d="M415.18,38.2L415.76,39.69L417.36,39.79L416.13,40.81L416.53,42.36L415.18,41.5L413.82,42.36L414.22,40.81L412.99,39.79L414.59,39.69Z" fill="#2C9E44"/>
<path d="M419.56,38.2L420.15,39.69L421.75,39.79L420.51,40.81L420.91,42.36L419.56,41.5L418.21,42.36L418.61,40.81L417.38,39.79L418.97,39.69Z" fill="#2C9E44"/>
<path d="M423.95,38.2L424.54,39.69L426.14,39.79L424.9,40.81L425.3,42.36L423.95,41.5L422.6,42.36L423,40.81L421.76,39.79L423.36,39.69Z" fill="#2C9E44"/>
<path d="M428.34,38.2L428.93,39.69L430.52,39.79L429.29,40.81L429.69,42.36L428.34,41.5L426.99,42.36L427.39,40.81L426.15,39.79L427.75,39.69Z" fill="#2C9E44"/>
<path d="M432.73,38.2L433.31,39.69L434.91,39.79L433.68,40.81L434.08,42.36L432.73,41.5L431.37,42.36L431.77,40.81L430.54,39.79L432.14,39.69Z" fill="#2C9E44"/>
<path d="M437.11,38.2L437.7,39.69L439.3,39.79L438.06,40.81L438.46,42.36L437.11,41.5L435.76,42.36L436.16,40.81L434.93,39.79L436.52,39.69Z" fill="#2C9E44"/>
<path d="M441.5,38.2L442.09,39.69L443.69,39.79L442.45,40.81L442.85,42.36L441.5,41.5L440.15,42.36L440.55,40.81L439.31,39.79L440.91,39.69Z" fill="#2C9E44"/>
<polyline points="266,43.2 270.39,43.2 274.77,43.2 279.16,49.5 283.55,51.7 287.94,58.8 292.32,60.2 296.71,65.1 301.1,66.4 305.49,71.5 309.88,75.4 314.26,80 318.65,83.4 323.04,87.6 327.43,91.9 331.81,99.3 336.2,104.4 340.59,109 344.98,116.8 349.36,120.8 353.75,128.6 358.14,131.5 362.52,139.2 366.91,142.9 371.3,148.5 375.69,151.9 380.07,157.5 384.46,160 388.85,165.6 393.24,168.5 397.62,173.7 402.01,175.5 406.4,180.3 410.79,182.4 415.18,186.9 419.56,188.3 423.95,192.7 428.34,194.1 432.73,197.5 437.11,199.3 441.5,202.1" fill="none" stroke="#1F68AC" stroke-width="0.8" stroke-linejoin="round"/>
<circle cx="266" cy="43.2" r="1.65" fill="#fff" stroke="#1F68AC" stroke-opacity="0.6" stroke-width="0.5"/><path d="M264.25,43.1A1.75,1.75 0 0 0 267.75,43.1Z" fill="#1F68AC"/>
<circle cx="270.39" cy="43.2" r="1.65" fill="#fff" stroke="#1F68AC" stroke-opacity="0.6" stroke-width="0.5"/><path d="M268.64,43.1A1.75,1.75 0 0 0 272.14,43.1Z" fill="#1F68AC"/>
<circle cx="274.77" cy="43.2" r="1.65" fill="#fff" stroke="#1F68AC" stroke-opacity="0.6" stroke-width="0.5"/><path d="M273.02,43.1A1.75,1.75 0 0 0 276.52,43.1Z" fill="#1F68AC"/>
<circle cx="279.16" cy="49.5" r="1.65" fill="#fff" stroke="#1F68AC" stroke-opacity="0.6" stroke-width="0.5"/><path d="M277.41,49.4A1.75,1.75 0 0 0 280.91,49.4Z" fill="#1F68AC"/>
<circle cx="283.55" cy="51.7" r="1.65" fill="#fff" stroke="#1F68AC" stroke-opacity="0.6" stroke-width="0.5"/><path d="M281.8,51.6A1.75,1.75 0 0 0 285.3,51.6Z" fill="#1F68AC"/>
<circle cx="287.94" cy="58.8" r="1.65" fill="#fff" stroke="#1F68AC" stroke-opacity="0.6" stroke-width="0.5"/><path d="M286.19,58.7A1.75,1.75 0 0 0 289.69,58.7Z" fill="#1F68AC"/>
<circle cx="292.32" cy="60.2" r="1.65" fill="#fff" stroke="#1F68AC" stroke-opacity="0.6" stroke-width="0.5"/><path d="M290.57,60.1A1.75,1.75 0 0 0 294.07,60.1Z" fill="#1F68AC"/>
<circle cx="296.71" cy="65.1" r="1.65" fill="#fff" stroke="#1F68AC" stroke-opacity="0.6" stroke-width="0.5"/><path d="M294.96,65A1.75,1.75 0 0 0 298.46,65Z" fill="#1F68AC"/>
<circle cx="301.1" cy="66.4" r="1.65" fill="#fff" stroke="#1F68AC" stroke-opacity="0.6" stroke-width="0.5"/><path d="M299.35,66.3A1.75,1.75 0 0 0 302.85,66.3Z" fill="#1F68AC"/>
<circle cx="305.49" cy="71.5" r="1.65" fill="#fff" stroke="#1F68AC" stroke-opacity="0.6" stroke-width="0.5"/><path d="M303.74,71.4A1.75,1.75 0 0 0 307.24,71.4Z" fill="#1F68AC"/>
<circle cx="309.88" cy="75.4" r="1.65" fill="#fff" stroke="#1F68AC" stroke-opacity="0.6" stroke-width="0.5"/><path d="M308.12,75.3A1.75,1.75 0 0 0 311.62,75.3Z" fill="#1F68AC"/>
<circle cx="314.26" cy="80" r="1.65" fill="#fff" stroke="#1F68AC" stroke-opacity="0.6" stroke-width="0.5"/><path d="M312.51,79.9A1.75,1.75 0 0 0 316.01,79.9Z" fill="#1F68AC"/>
<circle cx="318.65" cy="83.4" r="1.65" fill="#fff" stroke="#1F68AC" stroke-opacity="0.6" stroke-width="0.5"/><path d="M316.9,83.3A1.75,1.75 0 0 0 320.4,83.3Z" fill="#1F68AC"/>
<circle cx="323.04" cy="87.6" r="1.65" fill="#fff" stroke="#1F68AC" stroke-opacity="0.6" stroke-width="0.5"/><path d="M321.29,87.5A1.75,1.75 0 0 0 324.79,87.5Z" fill="#1F68AC"/>
<circle cx="327.43" cy="91.9" r="1.65" fill="#fff" stroke="#1F68AC" stroke-opacity="0.6" stroke-width="0.5"/><path d="M325.68,91.8A1.75,1.75 0 0 0 329.18,91.8Z" fill="#1F68AC"/>
<circle cx="331.81" cy="99.3" r="1.65" fill="#fff" stroke="#1F68AC" stroke-opacity="0.6" stroke-width="0.5"/><path d="M330.06,99.2A1.75,1.75 0 0 0 333.56,99.2Z" fill="#1F68AC"/>
<circle cx="336.2" cy="104.4" r="1.65" fill="#fff" stroke="#1F68AC" stroke-opacity="0.6" stroke-width="0.5"/><path d="M334.45,104.3A1.75,1.75 0 0 0 337.95,104.3Z" fill="#1F68AC"/>
<circle cx="340.59" cy="109" r="1.65" fill="#fff" stroke="#1F68AC" stroke-opacity="0.6" stroke-width="0.5"/><path d="M338.84,108.9A1.75,1.75 0 0 0 342.34,108.9Z" fill="#1F68AC"/>
<circle cx="344.98" cy="116.8" r="1.65" fill="#fff" stroke="#1F68AC" stroke-opacity="0.6" stroke-width="0.5"/><path d="M343.23,116.7A1.75,1.75 0 0 0 346.73,116.7Z" fill="#1F68AC"/>
<circle cx="349.36" cy="120.8" r="1.65" fill="#fff" stroke="#1F68AC" stroke-opacity="0.6" stroke-width="0.5"/><path d="M347.61,120.7A1.75,1.75 0 0 0 351.11,120.7Z" fill="#1F68AC"/>
<circle cx="353.75" cy="128.6" r="1.65" fill="#fff" stroke="#1F68AC" stroke-opacity="0.6" stroke-width="0.5"/><path d="M352,128.5A1.75,1.75 0 0 0 355.5,128.5Z" fill="#1F68AC"/>
<circle cx="358.14" cy="131.5" r="1.65" fill="#fff" stroke="#1F68AC" stroke-opacity="0.6" stroke-width="0.5"/><path d="M356.39,131.4A1.75,1.75 0 0 0 359.89,131.4Z" fill="#1F68AC"/>
<circle cx="362.52" cy="139.2" r="1.65" fill="#fff" stroke="#1F68AC" stroke-opacity="0.6" stroke-width="0.5"/><path d="M360.77,139.1A1.75,1.75 0 0 0 364.27,139.1Z" fill="#1F68AC"/>
<circle cx="366.91" cy="142.9" r="1.65" fill="#fff" stroke="#1F68AC" stroke-opacity="0.6" stroke-width="0.5"/><path d="M365.16,142.8A1.75,1.75 0 0 0 368.66,142.8Z" fill="#1F68AC"/>
<circle cx="371.3" cy="148.5" r="1.65" fill="#fff" stroke="#1F68AC" stroke-opacity="0.6" stroke-width="0.5"/><path d="M369.55,148.4A1.75,1.75 0 0 0 373.05,148.4Z" fill="#1F68AC"/>
<circle cx="375.69" cy="151.9" r="1.65" fill="#fff" stroke="#1F68AC" stroke-opacity="0.6" stroke-width="0.5"/><path d="M373.94,151.8A1.75,1.75 0 0 0 377.44,151.8Z" fill="#1F68AC"/>
<circle cx="380.07" cy="157.5" r="1.65" fill="#fff" stroke="#1F68AC" stroke-opacity="0.6" stroke-width="0.5"/><path d="M378.32,157.4A1.75,1.75 0 0 0 381.82,157.4Z" fill="#1F68AC"/>
<circle cx="384.46" cy="160" r="1.65" fill="#fff" stroke="#1F68AC" stroke-opacity="0.6" stroke-width="0.5"/><path d="M382.71,159.9A1.75,1.75 0 0 0 386.21,159.9Z" fill="#1F68AC"/>
<circle cx="388.85" cy="165.6" r="1.65" fill="#fff" stroke="#1F68AC" stroke-opacity="0.6" stroke-width="0.5"/><path d="M387.1,165.5A1.75,1.75 0 0 0 390.6,165.5Z" fill="#1F68AC"/>
<circle cx="393.24" cy="168.5" r="1.65" fill="#fff" stroke="#1F68AC" stroke-opacity="0.6" stroke-width="0.5"/><path d="M391.49,168.4A1.75,1.75 0 0 0 394.99,168.4Z" fill="#1F68AC"/>
<circle cx="397.62" cy="173.7" r="1.65" fill="#fff" stroke="#1F68AC" stroke-opacity="0.6" stroke-width="0.5"/><path d="M395.88,173.6A1.75,1.75 0 0 0 399.38,173.6Z" fill="#1F68AC"/>
<circle cx="402.01" cy="175.5" r="1.65" fill="#fff" stroke="#1F68AC" stroke-opacity="0.6" stroke-width="0.5"/><path d="M400.26,175.4A1.75,1.75 0 0 0 403.76,175.4Z" fill="#1F68AC"/>
<circle cx="406.4" cy="180.3" r="1.65" fill="#fff" stroke="#1F68AC" stroke-opacity="0.6" stroke-width="0.5"/><path d="M404.65,180.2A1.75,1.75 0 0 0 408.15,180.2Z" fill="#1F68AC"/>
<circle cx="410.79" cy="182.4" r="1.65" fill="#fff" stroke="#1F68AC" stroke-opacity="0.6" stroke-width="0.5"/><path d="M409.04,182.3A1.75,1.75 0 0 0 412.54,182.3Z" fill="#1F68AC"/>
<circle cx="415.18" cy="186.9" r="1.65" fill="#fff" stroke="#1F68AC" stroke-opacity="0.6" stroke-width="0.5"/><path d="M413.43,186.8A1.75,1.75 0 0 0 416.93,186.8Z" fill="#1F68AC"/>
<circle cx="419.56" cy="188.3" r="1.65" fill="#fff" stroke="#1F68AC" stroke-opacity="0.6" stroke-width="0.5"/><path d="M417.81,188.2A1.75,1.75 0 0 0 421.31,188.2Z" fill="#1F68AC"/>
<circle cx="423.95" cy="192.7" r="1.65" fill="#fff" stroke="#1F68AC" stroke-opacity="0.6" stroke-width="0.5"/><path d="M422.2,192.6A1.75,1.75 0 0 0 425.7,192.6Z" fill="#1F68AC"/>
<circle cx="428.34" cy="194.1" r="1.65" fill="#fff" stroke="#1F68AC" stroke-opacity="0.6" stroke-width="0.5"/><path d="M426.59,194A1.75,1.75 0 0 0 430.09,194Z" fill="#1F68AC"/>
<circle cx="432.73" cy="197.5" r="1.65" fill="#fff" stroke="#1F68AC" stroke-opacity="0.6" stroke-width="0.5"/><path d="M430.98,197.4A1.75,1.75 0 0 0 434.48,197.4Z" fill="#1F68AC"/>
<circle cx="437.11" cy="199.3" r="1.65" fill="#fff" stroke="#1F68AC" stroke-opacity="0.6" stroke-width="0.5"/><path d="M435.36,199.2A1.75,1.75 0 0 0 438.86,199.2Z" fill="#1F68AC"/>
<circle cx="441.5" cy="202.1" r="1.65" fill="#fff" stroke="#1F68AC" stroke-opacity="0.6" stroke-width="0.5"/><path d="M439.75,202A1.75,1.75 0 0 0 443.25,202Z" fill="#1F68AC"/>
</g>
<rect x="266.0" y="13.4" width="175.5" height="203.4" fill="none" stroke="#5a5a5a" stroke-width="1"/>
<line x1="266" y1="216.8" x2="266" y2="213.8" stroke="#5a5a5a" stroke-width="1"/>
<text x="266" y="229.1" font-size="10.35" text-anchor="middle" fill="#1a1a1a">2020</text>
<line x1="287.94" y1="216.8" x2="287.94" y2="215.2" stroke="#5a5a5a" stroke-width="1"/>
<line x1="309.88" y1="216.8" x2="309.88" y2="213.8" stroke="#5a5a5a" stroke-width="1"/>
<text x="309.88" y="229.1" font-size="10.35" text-anchor="middle" fill="#1a1a1a">2030</text>
<line x1="331.81" y1="216.8" x2="331.81" y2="215.2" stroke="#5a5a5a" stroke-width="1"/>
<line x1="353.75" y1="216.8" x2="353.75" y2="213.8" stroke="#5a5a5a" stroke-width="1"/>
<text x="353.75" y="229.1" font-size="10.35" text-anchor="middle" fill="#1a1a1a">2040</text>
<line x1="375.69" y1="216.8" x2="375.69" y2="215.2" stroke="#5a5a5a" stroke-width="1"/>
<line x1="397.62" y1="216.8" x2="397.62" y2="213.8" stroke="#5a5a5a" stroke-width="1"/>
<text x="397.62" y="229.1" font-size="10.35" text-anchor="middle" fill="#1a1a1a">2050</text>
<line x1="419.56" y1="216.8" x2="419.56" y2="215.2" stroke="#5a5a5a" stroke-width="1"/>
<line x1="441.5" y1="216.8" x2="441.5" y2="213.8" stroke="#5a5a5a" stroke-width="1"/>
<text x="441.5" y="229.1" font-size="10.35" text-anchor="middle" fill="#1a1a1a">2060</text>
<line x1="266" y1="199.85" x2="269" y2="199.85" stroke="#5a5a5a" stroke-width="1"/>
<text x="262.2" y="203.45" font-size="10.3" text-anchor="end" fill="#1a1a1a">0.104</text>
<line x1="266" y1="132.05" x2="269" y2="132.05" stroke="#5a5a5a" stroke-width="1"/>
<text x="262.2" y="135.65" font-size="10.3" text-anchor="end" fill="#1a1a1a">0.106</text>
<line x1="266" y1="64.25" x2="269" y2="64.25" stroke="#5a5a5a" stroke-width="1"/>
<text x="262.2" y="67.85" font-size="10.3" text-anchor="end" fill="#1a1a1a">0.108</text>
<line x1="266" y1="165.95" x2="267.6" y2="165.95" stroke="#5a5a5a" stroke-width="1"/>
<line x1="266" y1="98.15" x2="267.6" y2="98.15" stroke="#5a5a5a" stroke-width="1"/>
<line x1="266" y1="30.35" x2="267.6" y2="30.35" stroke="#5a5a5a" stroke-width="1"/>
<text transform="translate(233.2,116.55) rotate(-90)" font-size="10.3" font-weight="bold" stroke-width="0.1" text-anchor="middle" fill="#1a1a1a">Energy intensity (tce/ton)</text>
<line x1="275.0" y1="174.8" x2="298.0" y2="174.8" stroke="#E8772A" stroke-width="0.7"/>
<path d="M284,174.8L287.8,172.8L287.8,176.8Z" fill="#E8772A"/>
<text x="301.5" y="178.4" font-size="10" fill="#1a1a1a">S4</text>
<line x1="275.0" y1="187.6" x2="298.0" y2="187.6" stroke="#2C9E44" stroke-width="0.7"/>
<path d="M286.5,185.3L287.09,186.79L288.69,186.89L287.45,187.91L287.85,189.46L286.5,188.6L285.15,189.46L285.55,187.91L284.31,186.89L285.91,186.79Z" fill="#2C9E44"/>
<text x="301.5" y="191.2" font-size="10" fill="#1a1a1a">S5</text>
<line x1="275.0" y1="200.3" x2="298.0" y2="200.3" stroke="#1F68AC" stroke-width="0.7"/>
<circle cx="286.5" cy="200.3" r="1.65" fill="#fff" stroke="#1F68AC" stroke-opacity="0.6" stroke-width="0.5"/><path d="M284.75,200.2A1.75,1.75 0 0 0 288.25,200.2Z" fill="#1F68AC"/>
<text x="301.5" y="203.9" font-size="10" fill="#1a1a1a">S6</text>
<text x="589.5" y="7.6" font-size="10" text-anchor="middle" fill="#1a1a1a">(c)</text>
<clipPath id="clipc"><rect x="495.5" y="10.4" width="181.0" height="209.4"/></clipPath>
<g clip-path="url(#clipc)">
<polyline points="498.5,41.8 502.88,47.46 507.25,53.01 511.62,58.45 516,63.79 520.38,69 524.75,74.07 529.12,79 533.5,83.85 537.88,88.85 542.25,93.86 546.62,98.95 551,104.07 555.38,109.15 559.75,114.11 564.12,118.88 568.5,123.47 572.88,127.95 577.25,132.3 581.62,136.48 586,140.49 590.38,144.33 594.75,148.05 599.12,151.62 603.5,155.04 607.88,158.3 612.25,161.06 616.62,163.8 621,166.9 625.38,169.9 629.75,172.4 634.12,174.9 638.5,177.2 642.88,179.5 647.25,181.8 651.62,183.7 656,185.9 660.38,187.5 664.75,189.6 669.12,191.4 673.5,193.7" fill="none" stroke="#E8772A" stroke-width="0.8" stroke-linejoin="round"/>
<path d="M496,41.8L499.8,39.8L499.8,43.8Z" fill="#E8772A"/>
<path d="M500.38,47.46L504.18,45.46L504.18,49.46Z" fill="#E8772A"/>
<path d="M504.75,53.01L508.55,51.01L508.55,55.01Z" fill="#E8772A"/>
<path d="M509.12,58.45L512.92,56.45L512.92,60.45Z" fill="#E8772A"/>
<path d="M513.5,63.79L517.3,61.79L517.3,65.79Z" fill="#E8772A"/>
<path d="M517.88,69L521.67,67L521.67,71Z" fill="#E8772A"/>
<path d="M522.25,74.07L526.05,72.07L526.05,76.07Z" fill="#E8772A"/>
<path d="M526.62,79L530.42,77L530.42,81Z" fill="#E8772A"/>
<path d="M531,83.85L534.8,81.85L534.8,85.85Z" fill="#E8772A"/>
<path d="M535.38,88.85L539.17,86.85L539.17,90.85Z" fill="#E8772A"/>
<path d="M539.75,93.86L543.55,91.86L543.55,95.86Z" fill="#E8772A"/>
<path d="M544.12,98.95L547.92,96.95L547.92,100.95Z" fill="#E8772A"/>
<path d="M548.5,104.07L552.3,102.07L552.3,106.07Z" fill="#E8772A"/>
<path d="M552.88,109.15L556.67,107.15L556.67,111.15Z" fill="#E8772A"/>
<path d="M557.25,114.11L561.05,112.11L561.05,116.11Z" fill="#E8772A"/>
<path d="M561.62,118.88L565.42,116.88L565.42,120.88Z" fill="#E8772A"/>
<path d="M566,123.47L569.8,121.47L569.8,125.47Z" fill="#E8772A"/>
<path d="M570.38,127.95L574.17,125.95L574.17,129.95Z" fill="#E8772A"/>
<path d="M574.75,132.3L578.55,130.3L578.55,134.3Z" fill="#E8772A"/>
<path d="M579.12,136.48L582.92,134.48L582.92,138.48Z" fill="#E8772A"/>
<path d="M583.5,140.49L587.3,138.49L587.3,142.49Z" fill="#E8772A"/>
<path d="M587.88,144.33L591.67,142.33L591.67,146.33Z" fill="#E8772A"/>
<path d="M592.25,148.05L596.05,146.05L596.05,150.05Z" fill="#E8772A"/>
<path d="M596.62,151.62L600.42,149.62L600.42,153.62Z" fill="#E8772A"/>
<path d="M601,155.04L604.8,153.04L604.8,157.04Z" fill="#E8772A"/>
<path d="M605.38,158.3L609.17,156.3L609.17,160.3Z" fill="#E8772A"/>
<path d="M609.75,161.06L613.55,159.06L613.55,163.06Z" fill="#E8772A"/>
<path d="M614.12,163.8L617.92,161.8L617.92,165.8Z" fill="#E8772A"/>
<path d="M618.5,166.9L622.3,164.9L622.3,168.9Z" fill="#E8772A"/>
<path d="M622.88,169.9L626.67,167.9L626.67,171.9Z" fill="#E8772A"/>
<path d="M627.25,172.4L631.05,170.4L631.05,174.4Z" fill="#E8772A"/>
<path d="M631.62,174.9L635.42,172.9L635.42,176.9Z" fill="#E8772A"/>
<path d="M636,177.2L639.8,175.2L639.8,179.2Z" fill="#E8772A"/>
<path d="M640.38,179.5L644.17,177.5L644.17,181.5Z" fill="#E8772A"/>
<path d="M644.75,181.8L648.55,179.8L648.55,183.8Z" fill="#E8772A"/>
<path d="M649.12,183.7L652.92,181.7L652.92,185.7Z" fill="#E8772A"/>
<path d="M653.5,185.9L657.3,183.9L657.3,187.9Z" fill="#E8772A"/>
<path d="M657.88,187.5L661.67,185.5L661.67,189.5Z" fill="#E8772A"/>
<path d="M662.25,189.6L666.05,187.6L666.05,191.6Z" fill="#E8772A"/>
<path d="M666.62,191.4L670.42,189.4L670.42,193.4Z" fill="#E8772A"/>
<path d="M671,193.7L674.8,191.7L674.8,195.7Z" fill="#E8772A"/>
<polyline points="498.5,41.8 502.88,47.46 507.25,53.01 511.62,58.45 516,63.79 520.38,69 524.75,74.07 529.12,79 533.5,83.85 537.88,88.67 542.25,93.5 546.62,98.4 551,103.34 555.38,108.24 559.75,113.02 564.12,117.6 568.5,122.01 572.88,126.31 577.25,130.47 581.62,134.48 586,138.3 590.38,141.96 594.75,145.49 599.12,148.89 603.5,152.13 607.88,155.2 612.25,157.96 616.62,160.7 621,163.8 625.38,166.8 629.75,169.3 634.12,171.8 638.5,174.1 642.88,176.4 647.25,178.7 651.62,180.6 656,182.8 660.38,184.4 664.75,186.5 669.12,188.3 673.5,190.6" fill="none" stroke="#2C9E44" stroke-width="0.8" stroke-linejoin="round"/>
<path d="M498.5,39.5L499.09,40.99L500.69,41.09L499.45,42.11L499.85,43.66L498.5,42.8L497.15,43.66L497.55,42.11L496.31,41.09L497.91,40.99Z" fill="#2C9E44"/>
<path d="M502.88,45.16L503.46,46.65L505.06,46.75L503.83,47.77L504.23,49.32L502.88,48.46L501.52,49.32L501.92,47.77L500.69,46.75L502.29,46.65Z" fill="#2C9E44"/>
<path d="M507.25,50.71L507.84,52.2L509.44,52.3L508.2,53.32L508.6,54.87L507.25,54.01L505.9,54.87L506.3,53.32L505.06,52.3L506.66,52.2Z" fill="#2C9E44"/>
<path d="M511.62,56.15L512.21,57.65L513.81,57.74L512.58,58.76L512.98,60.31L511.62,59.45L510.27,60.31L510.67,58.76L509.44,57.74L511.04,57.65Z" fill="#2C9E44"/>
<path d="M516,61.49L516.59,62.98L518.19,63.07L516.95,64.09L517.35,65.65L516,64.79L514.65,65.65L515.05,64.09L513.81,63.07L515.41,62.98Z" fill="#2C9E44"/>
<path d="M520.38,66.7L520.96,68.19L522.56,68.29L521.33,69.31L521.73,70.86L520.38,70L519.02,70.86L519.42,69.31L518.19,68.29L519.79,68.19Z" fill="#2C9E44"/>
<path d="M524.75,71.77L525.34,73.26L526.94,73.36L525.7,74.38L526.1,75.93L524.75,75.07L523.4,75.93L523.8,74.38L522.56,73.36L524.16,73.26Z" fill="#2C9E44"/>
<path d="M529.12,76.7L529.71,78.19L531.31,78.29L530.08,79.31L530.48,80.86L529.12,80L527.77,80.86L528.17,79.31L526.94,78.29L528.54,78.19Z" fill="#2C9E44"/>
<path d="M533.5,81.55L534.09,83.04L535.69,83.14L534.45,84.16L534.85,85.71L533.5,84.85L532.15,85.71L532.55,84.16L531.31,83.14L532.91,83.04Z" fill="#2C9E44"/>
<path d="M537.88,86.37L538.46,87.86L540.06,87.96L538.83,88.98L539.23,90.53L537.88,89.67L536.52,90.53L536.92,88.98L535.69,87.96L537.29,87.86Z" fill="#2C9E44"/>
<path d="M542.25,91.2L542.84,92.69L544.44,92.79L543.2,93.81L543.6,95.36L542.25,94.5L540.9,95.36L541.3,93.81L540.06,92.79L541.66,92.69Z" fill="#2C9E44"/>
<path d="M546.62,96.1L547.21,97.59L548.81,97.69L547.58,98.71L547.98,100.26L546.62,99.4L545.27,100.26L545.67,98.71L544.44,97.69L546.04,97.59Z" fill="#2C9E44"/>
<path d="M551,101.04L551.59,102.54L553.19,102.63L551.95,103.65L552.35,105.2L551,104.34L549.65,105.2L550.05,103.65L548.81,102.63L550.41,102.54Z" fill="#2C9E44"/>
<path d="M555.38,105.94L555.96,107.43L557.56,107.53L556.33,108.55L556.73,110.1L555.38,109.24L554.02,110.1L554.42,108.55L553.19,107.53L554.79,107.43Z" fill="#2C9E44"/>
<path d="M559.75,110.72L560.34,112.21L561.94,112.31L560.7,113.33L561.1,114.88L559.75,114.02L558.4,114.88L558.8,113.33L557.56,112.31L559.16,112.21Z" fill="#2C9E44"/>
<path d="M564.12,115.3L564.71,116.79L566.31,116.89L565.08,117.91L565.48,119.46L564.12,118.6L562.77,119.46L563.17,117.91L561.94,116.89L563.54,116.79Z" fill="#2C9E44"/>
<path d="M568.5,119.71L569.09,121.2L570.69,121.3L569.45,122.32L569.85,123.87L568.5,123.01L567.15,123.87L567.55,122.32L566.31,121.3L567.91,121.2Z" fill="#2C9E44"/>
<path d="M572.88,124.01L573.46,125.5L575.06,125.6L573.83,126.62L574.23,128.17L572.88,127.31L571.52,128.17L571.92,126.62L570.69,125.6L572.29,125.5Z" fill="#2C9E44"/>
<path d="M577.25,128.17L577.84,129.66L579.44,129.76L578.2,130.78L578.6,132.33L577.25,131.47L575.9,132.33L576.3,130.78L575.06,129.76L576.66,129.66Z" fill="#2C9E44"/>
<path d="M581.62,132.18L582.21,133.67L583.81,133.77L582.58,134.79L582.98,136.34L581.62,135.48L580.27,136.34L580.67,134.79L579.44,133.77L581.04,133.67Z" fill="#2C9E44"/>
<path d="M586,136L586.59,137.49L588.19,137.59L586.95,138.61L587.35,140.16L586,139.3L584.65,140.16L585.05,138.61L583.81,137.59L585.41,137.49Z" fill="#2C9E44"/>
<path d="M590.38,139.66L590.96,141.15L592.56,141.25L591.33,142.27L591.73,143.82L590.38,142.96L589.02,143.82L589.42,142.27L588.19,141.25L589.79,141.15Z" fill="#2C9E44"/>
<path d="M594.75,143.19L595.34,144.68L596.94,144.78L595.7,145.8L596.1,147.35L594.75,146.49L593.4,147.35L593.8,145.8L592.56,144.78L594.16,144.68Z" fill="#2C9E44"/>
<path d="M599.12,146.59L599.71,148.08L601.31,148.17L600.08,149.19L600.48,150.75L599.12,149.89L597.77,150.75L598.17,149.19L596.94,148.17L598.54,148.08Z" fill="#2C9E44"/>
<path d="M603.5,149.83L604.09,151.32L605.69,151.41L604.45,152.43L604.85,153.99L603.5,153.13L602.15,153.99L602.55,152.43L601.31,151.41L602.91,151.32Z" fill="#2C9E44"/>
<path d="M607.88,152.9L608.46,154.39L610.06,154.49L608.83,155.51L609.23,157.06L607.88,156.2L606.52,157.06L606.92,155.51L605.69,154.49L607.29,154.39Z" fill="#2C9E44"/>
<path d="M612.25,155.66L612.84,157.15L614.44,157.25L613.2,158.27L613.6,159.82L612.25,158.96L610.9,159.82L611.3,158.27L610.06,157.25L611.66,157.15Z" fill="#2C9E44"/>
<path d="M616.62,158.4L617.21,159.89L618.81,159.99L617.58,161.01L617.98,162.56L616.62,161.7L615.27,162.56L615.67,161.01L614.44,159.99L616.04,159.89Z" fill="#2C9E44"/>
<path d="M621,161.5L621.59,162.99L623.19,163.09L621.95,164.11L622.35,165.66L621,164.8L619.65,165.66L620.05,164.11L618.81,163.09L620.41,162.99Z" fill="#2C9E44"/>
<path d="M625.38,164.5L625.96,165.99L627.56,166.09L626.33,167.11L626.73,168.66L625.38,167.8L624.02,168.66L624.42,167.11L623.19,166.09L624.79,165.99Z" fill="#2C9E44"/>
<path d="M629.75,167L630.34,168.49L631.94,168.59L630.7,169.61L631.1,171.16L629.75,170.3L628.4,171.16L628.8,169.61L627.56,168.59L629.16,168.49Z" fill="#2C9E44"/>
<path d="M634.12,169.5L634.71,170.99L636.31,171.09L635.08,172.11L635.48,173.66L634.12,172.8L632.77,173.66L633.17,172.11L631.94,171.09L633.54,170.99Z" fill="#2C9E44"/>
<path d="M638.5,171.8L639.09,173.29L640.69,173.39L639.45,174.41L639.85,175.96L638.5,175.1L637.15,175.96L637.55,174.41L636.31,173.39L637.91,173.29Z" fill="#2C9E44"/>
<path d="M642.88,174.1L643.46,175.59L645.06,175.69L643.83,176.71L644.23,178.26L642.88,177.4L641.52,178.26L641.92,176.71L640.69,175.69L642.29,175.59Z" fill="#2C9E44"/>
<path d="M647.25,176.4L647.84,177.89L649.44,177.99L648.2,179.01L648.6,180.56L647.25,179.7L645.9,180.56L646.3,179.01L645.06,177.99L646.66,177.89Z" fill="#2C9E44"/>
<path d="M651.62,178.3L652.21,179.79L653.81,179.89L652.58,180.91L652.98,182.46L651.62,181.6L650.27,182.46L650.67,180.91L649.44,179.89L651.04,179.79Z" fill="#2C9E44"/>
<path d="M656,180.5L656.59,181.99L658.19,182.09L656.95,183.11L657.35,184.66L656,183.8L654.65,184.66L655.05,183.11L653.81,182.09L655.41,181.99Z" fill="#2C9E44"/>
<path d="M660.38,182.1L660.96,183.59L662.56,183.69L661.33,184.71L661.73,186.26L660.38,185.4L659.02,186.26L659.42,184.71L658.19,183.69L659.79,183.59Z" fill="#2C9E44"/>
<path d="M664.75,184.2L665.34,185.69L666.94,185.79L665.7,186.81L666.1,188.36L664.75,187.5L663.4,188.36L663.8,186.81L662.56,185.79L664.16,185.69Z" fill="#2C9E44"/>
<path d="M669.12,186L669.71,187.49L671.31,187.59L670.08,188.61L670.48,190.16L669.12,189.3L667.77,190.16L668.17,188.61L666.94,187.59L668.54,187.49Z" fill="#2C9E44"/>
<path d="M673.5,188.3L674.09,189.79L675.69,189.89L674.45,190.91L674.85,192.46L673.5,191.6L672.15,192.46L672.55,190.91L671.31,189.89L672.91,189.79Z" fill="#2C9E44"/>
<polyline points="498.5,41.8 502.88,48.1 507.25,53.8 511.62,59.9 516,65.3 520.38,71 524.75,76.3 529.12,81.5 533.5,86.6 537.88,91.6 542.25,96.4 546.62,101.5 551,106.3 555.38,111.1 559.75,116 564.12,121.1 568.5,126.4 572.88,130.8 577.25,135.6 581.62,139.7 586,144.2 590.38,148.2 594.75,152.2 599.12,156.1 603.5,159.6 607.88,163 612.25,166.7 616.62,169.3 621,172.7 625.38,175.5 629.75,178.6 634.12,181.7 638.5,184.4 642.88,186.9 647.25,189.3 651.62,191.3 656,193.8 660.38,195.7 664.75,197.5 669.12,198.9 673.5,200.3" fill="none" stroke="#1F68AC" stroke-width="0.8" stroke-linejoin="round"/>
<circle cx="498.5" cy="41.8" r="1.65" fill="#fff" stroke="#1F68AC" stroke-opacity="0.6" stroke-width="0.5"/><path d="M496.75,41.7A1.75,1.75 0 0 0 500.25,41.7Z" fill="#1F68AC"/>
<circle cx="502.88" cy="48.1" r="1.65" fill="#fff" stroke="#1F68AC" stroke-opacity="0.6" stroke-width="0.5"/><path d="M501.12,48A1.75,1.75 0 0 0 504.62,48Z" fill="#1F68AC"/>
<circle cx="507.25" cy="53.8" r="1.65" fill="#fff" stroke="#1F68AC" stroke-opacity="0.6" stroke-width="0.5"/><path d="M505.5,53.7A1.75,1.75 0 0 0 509,53.7Z" fill="#1F68AC"/>
<circle cx="511.62" cy="59.9" r="1.65" fill="#fff" stroke="#1F68AC" stroke-opacity="0.6" stroke-width="0.5"/><path d="M509.88,59.8A1.75,1.75 0 0 0 513.38,59.8Z" fill="#1F68AC"/>
<circle cx="516" cy="65.3" r="1.65" fill="#fff" stroke="#1F68AC" stroke-opacity="0.6" stroke-width="0.5"/><path d="M514.25,65.2A1.75,1.75 0 0 0 517.75,65.2Z" fill="#1F68AC"/>
<circle cx="520.38" cy="71" r="1.65" fill="#fff" stroke="#1F68AC" stroke-opacity="0.6" stroke-width="0.5"/><path d="M518.62,70.9A1.75,1.75 0 0 0 522.12,70.9Z" fill="#1F68AC"/>
<circle cx="524.75" cy="76.3" r="1.65" fill="#fff" stroke="#1F68AC" stroke-opacity="0.6" stroke-width="0.5"/><path d="M523,76.2A1.75,1.75 0 0 0 526.5,76.2Z" fill="#1F68AC"/>
<circle cx="529.12" cy="81.5" r="1.65" fill="#fff" stroke="#1F68AC" stroke-opacity="0.6" stroke-width="0.5"/><path d="M527.38,81.4A1.75,1.75 0 0 0 530.88,81.4Z" fill="#1F68AC"/>
<circle cx="533.5" cy="86.6" r="1.65" fill="#fff" stroke="#1F68AC" stroke-opacity="0.6" stroke-width="0.5"/><path d="M531.75,86.5A1.75,1.75 0 0 0 535.25,86.5Z" fill="#1F68AC"/>
<circle cx="537.88" cy="91.6" r="1.65" fill="#fff" stroke="#1F68AC" stroke-opacity="0.6" stroke-width="0.5"/><path d="M536.12,91.5A1.75,1.75 0 0 0 539.62,91.5Z" fill="#1F68AC"/>
<circle cx="542.25" cy="96.4" r="1.65" fill="#fff" stroke="#1F68AC" stroke-opacity="0.6" stroke-width="0.5"/><path d="M540.5,96.3A1.75,1.75 0 0 0 544,96.3Z" fill="#1F68AC"/>
<circle cx="546.62" cy="101.5" r="1.65" fill="#fff" stroke="#1F68AC" stroke-opacity="0.6" stroke-width="0.5"/><path d="M544.88,101.4A1.75,1.75 0 0 0 548.38,101.4Z" fill="#1F68AC"/>
<circle cx="551" cy="106.3" r="1.65" fill="#fff" stroke="#1F68AC" stroke-opacity="0.6" stroke-width="0.5"/><path d="M549.25,106.2A1.75,1.75 0 0 0 552.75,106.2Z" fill="#1F68AC"/>
<circle cx="555.38" cy="111.1" r="1.65" fill="#fff" stroke="#1F68AC" stroke-opacity="0.6" stroke-width="0.5"/><path d="M553.62,111A1.75,1.75 0 0 0 557.12,111Z" fill="#1F68AC"/>
<circle cx="559.75" cy="116" r="1.65" fill="#fff" stroke="#1F68AC" stroke-opacity="0.6" stroke-width="0.5"/><path d="M558,115.9A1.75,1.75 0 0 0 561.5,115.9Z" fill="#1F68AC"/>
<circle cx="564.12" cy="121.1" r="1.65" fill="#fff" stroke="#1F68AC" stroke-opacity="0.6" stroke-width="0.5"/><path d="M562.38,121A1.75,1.75 0 0 0 565.88,121Z" fill="#1F68AC"/>
<circle cx="568.5" cy="126.4" r="1.65" fill="#fff" stroke="#1F68AC" stroke-opacity="0.6" stroke-width="0.5"/><path d="M566.75,126.3A1.75,1.75 0 0 0 570.25,126.3Z" fill="#1F68AC"/>
<circle cx="572.88" cy="130.8" r="1.65" fill="#fff" stroke="#1F68AC" stroke-opacity="0.6" stroke-width="0.5"/><path d="M571.12,130.7A1.75,1.75 0 0 0 574.62,130.7Z" fill="#1F68AC"/>
<circle cx="577.25" cy="135.6" r="1.65" fill="#fff" stroke="#1F68AC" stroke-opacity="0.6" stroke-width="0.5"/><path d="M575.5,135.5A1.75,1.75 0 0 0 579,135.5Z" fill="#1F68AC"/>
<circle cx="581.62" cy="139.7" r="1.65" fill="#fff" stroke="#1F68AC" stroke-opacity="0.6" stroke-width="0.5"/><path d="M579.88,139.6A1.75,1.75 0 0 0 583.38,139.6Z" fill="#1F68AC"/>
<circle cx="586" cy="144.2" r="1.65" fill="#fff" stroke="#1F68AC" stroke-opacity="0.6" stroke-width="0.5"/><path d="M584.25,144.1A1.75,1.75 0 0 0 587.75,144.1Z" fill="#1F68AC"/>
<circle cx="590.38" cy="148.2" r="1.65" fill="#fff" stroke="#1F68AC" stroke-opacity="0.6" stroke-width="0.5"/><path d="M588.62,148.1A1.75,1.75 0 0 0 592.12,148.1Z" fill="#1F68AC"/>
<circle cx="594.75" cy="152.2" r="1.65" fill="#fff" stroke="#1F68AC" stroke-opacity="0.6" stroke-width="0.5"/><path d="M593,152.1A1.75,1.75 0 0 0 596.5,152.1Z" fill="#1F68AC"/>
<circle cx="599.12" cy="156.1" r="1.65" fill="#fff" stroke="#1F68AC" stroke-opacity="0.6" stroke-width="0.5"/><path d="M597.38,156A1.75,1.75 0 0 0 600.88,156Z" fill="#1F68AC"/>
<circle cx="603.5" cy="159.6" r="1.65" fill="#fff" stroke="#1F68AC" stroke-opacity="0.6" stroke-width="0.5"/><path d="M601.75,159.5A1.75,1.75 0 0 0 605.25,159.5Z" fill="#1F68AC"/>
<circle cx="607.88" cy="163" r="1.65" fill="#fff" stroke="#1F68AC" stroke-opacity="0.6" stroke-width="0.5"/><path d="M606.12,162.9A1.75,1.75 0 0 0 609.62,162.9Z" fill="#1F68AC"/>
<circle cx="612.25" cy="166.7" r="1.65" fill="#fff" stroke="#1F68AC" stroke-opacity="0.6" stroke-width="0.5"/><path d="M610.5,166.6A1.75,1.75 0 0 0 614,166.6Z" fill="#1F68AC"/>
<circle cx="616.62" cy="169.3" r="1.65" fill="#fff" stroke="#1F68AC" stroke-opacity="0.6" stroke-width="0.5"/><path d="M614.88,169.2A1.75,1.75 0 0 0 618.38,169.2Z" fill="#1F68AC"/>
<circle cx="621" cy="172.7" r="1.65" fill="#fff" stroke="#1F68AC" stroke-opacity="0.6" stroke-width="0.5"/><path d="M619.25,172.6A1.75,1.75 0 0 0 622.75,172.6Z" fill="#1F68AC"/>
<circle cx="625.38" cy="175.5" r="1.65" fill="#fff" stroke="#1F68AC" stroke-opacity="0.6" stroke-width="0.5"/><path d="M623.62,175.4A1.75,1.75 0 0 0 627.12,175.4Z" fill="#1F68AC"/>
<circle cx="629.75" cy="178.6" r="1.65" fill="#fff" stroke="#1F68AC" stroke-opacity="0.6" stroke-width="0.5"/><path d="M628,178.5A1.75,1.75 0 0 0 631.5,178.5Z" fill="#1F68AC"/>
<circle cx="634.12" cy="181.7" r="1.65" fill="#fff" stroke="#1F68AC" stroke-opacity="0.6" stroke-width="0.5"/><path d="M632.38,181.6A1.75,1.75 0 0 0 635.88,181.6Z" fill="#1F68AC"/>
<circle cx="638.5" cy="184.4" r="1.65" fill="#fff" stroke="#1F68AC" stroke-opacity="0.6" stroke-width="0.5"/><path d="M636.75,184.3A1.75,1.75 0 0 0 640.25,184.3Z" fill="#1F68AC"/>
<circle cx="642.88" cy="186.9" r="1.65" fill="#fff" stroke="#1F68AC" stroke-opacity="0.6" stroke-width="0.5"/><path d="M641.12,186.8A1.75,1.75 0 0 0 644.62,186.8Z" fill="#1F68AC"/>
<circle cx="647.25" cy="189.3" r="1.65" fill="#fff" stroke="#1F68AC" stroke-opacity="0.6" stroke-width="0.5"/><path d="M645.5,189.2A1.75,1.75 0 0 0 649,189.2Z" fill="#1F68AC"/>
<circle cx="651.62" cy="191.3" r="1.65" fill="#fff" stroke="#1F68AC" stroke-opacity="0.6" stroke-width="0.5"/><path d="M649.88,191.2A1.75,1.75 0 0 0 653.38,191.2Z" fill="#1F68AC"/>
<circle cx="656" cy="193.8" r="1.65" fill="#fff" stroke="#1F68AC" stroke-opacity="0.6" stroke-width="0.5"/><path d="M654.25,193.7A1.75,1.75 0 0 0 657.75,193.7Z" fill="#1F68AC"/>
<circle cx="660.38" cy="195.7" r="1.65" fill="#fff" stroke="#1F68AC" stroke-opacity="0.6" stroke-width="0.5"/><path d="M658.62,195.6A1.75,1.75 0 0 0 662.12,195.6Z" fill="#1F68AC"/>
<circle cx="664.75" cy="197.5" r="1.65" fill="#fff" stroke="#1F68AC" stroke-opacity="0.6" stroke-width="0.5"/><path d="M663,197.4A1.75,1.75 0 0 0 666.5,197.4Z" fill="#1F68AC"/>
<circle cx="669.12" cy="198.9" r="1.65" fill="#fff" stroke="#1F68AC" stroke-opacity="0.6" stroke-width="0.5"/><path d="M667.38,198.8A1.75,1.75 0 0 0 670.88,198.8Z" fill="#1F68AC"/>
<circle cx="673.5" cy="200.3" r="1.65" fill="#fff" stroke="#1F68AC" stroke-opacity="0.6" stroke-width="0.5"/><path d="M671.75,200.2A1.75,1.75 0 0 0 675.25,200.2Z" fill="#1F68AC"/>
</g>
<rect x="498.5" y="13.4" width="175" height="203.4" fill="none" stroke="#5a5a5a" stroke-width="1"/>
<line x1="498.5" y1="216.8" x2="498.5" y2="213.8" stroke="#5a5a5a" stroke-width="1"/>
<text x="498.5" y="229.1" font-size="10.35" text-anchor="middle" fill="#1a1a1a">2020</text>
<line x1="520.38" y1="216.8" x2="520.38" y2="215.2" stroke="#5a5a5a" stroke-width="1"/>
<line x1="542.25" y1="216.8" x2="542.25" y2="213.8" stroke="#5a5a5a" stroke-width="1"/>
<text x="542.25" y="229.1" font-size="10.35" text-anchor="middle" fill="#1a1a1a">2030</text>
<line x1="564.12" y1="216.8" x2="564.12" y2="215.2" stroke="#5a5a5a" stroke-width="1"/>
<line x1="586" y1="216.8" x2="586" y2="213.8" stroke="#5a5a5a" stroke-width="1"/>
<text x="586" y="229.1" font-size="10.35" text-anchor="middle" fill="#1a1a1a">2040</text>
<line x1="607.88" y1="216.8" x2="607.88" y2="215.2" stroke="#5a5a5a" stroke-width="1"/>
<line x1="629.75" y1="216.8" x2="629.75" y2="213.8" stroke="#5a5a5a" stroke-width="1"/>
<text x="629.75" y="229.1" font-size="10.35" text-anchor="middle" fill="#1a1a1a">2050</text>
<line x1="651.62" y1="216.8" x2="651.62" y2="215.2" stroke="#5a5a5a" stroke-width="1"/>
<line x1="673.5" y1="216.8" x2="673.5" y2="213.8" stroke="#5a5a5a" stroke-width="1"/>
<text x="673.5" y="229.1" font-size="10.35" text-anchor="middle" fill="#1a1a1a">2060</text>
<line x1="498.5" y1="194.2" x2="501.5" y2="194.2" stroke="#5a5a5a" stroke-width="1"/>
<text x="494.7" y="197.8" font-size="10.3" text-anchor="end" fill="#1a1a1a">5</text>
<line x1="498.5" y1="149" x2="501.5" y2="149" stroke="#5a5a5a" stroke-width="1"/>
<text x="494.7" y="152.6" font-size="10.3" text-anchor="end" fill="#1a1a1a">10</text>
<line x1="498.5" y1="103.8" x2="501.5" y2="103.8" stroke="#5a5a5a" stroke-width="1"/>
<text x="494.7" y="107.4" font-size="10.3" text-anchor="end" fill="#1a1a1a">15</text>
<line x1="498.5" y1="58.6" x2="501.5" y2="58.6" stroke="#5a5a5a" stroke-width="1"/>
<text x="494.7" y="62.2" font-size="10.3" text-anchor="end" fill="#1a1a1a">20</text>
<line x1="498.5" y1="13.4" x2="501.5" y2="13.4" stroke="#5a5a5a" stroke-width="1"/>
<text x="494.7" y="17" font-size="10.3" text-anchor="end" fill="#1a1a1a">25</text>
<line x1="498.5" y1="171.6" x2="500.1" y2="171.6" stroke="#5a5a5a" stroke-width="1"/>
<line x1="498.5" y1="126.4" x2="500.1" y2="126.4" stroke="#5a5a5a" stroke-width="1"/>
<line x1="498.5" y1="81.2" x2="500.1" y2="81.2" stroke="#5a5a5a" stroke-width="1"/>
<line x1="498.5" y1="36" x2="500.1" y2="36" stroke="#5a5a5a" stroke-width="1"/>
<text transform="translate(472.6,122.45) rotate(-90)" font-size="10.4" font-weight="bold" stroke-width="0.1" text-anchor="middle" fill="#1a1a1a">Carbon emission (million t CO<tspan font-size="7.2" dy="2.2">2</tspan><tspan dy="-2.2">e)</tspan></text>
<line x1="624.8" y1="26.4" x2="648.7" y2="26.4" stroke="#E8772A" stroke-width="0.7"/>
<path d="M634.25,26.4L638.05,24.4L638.05,28.4Z" fill="#E8772A"/>
<text x="651.6" y="30" font-size="10" fill="#1a1a1a">S4</text>
<line x1="624.8" y1="39.2" x2="648.7" y2="39.2" stroke="#2C9E44" stroke-width="0.7"/>
<path d="M636.75,36.9L637.34,38.39L638.94,38.49L637.7,39.51L638.1,41.06L636.75,40.2L635.4,41.06L635.8,39.51L634.56,38.49L636.16,38.39Z" fill="#2C9E44"/>
<text x="651.6" y="42.8" font-size="10" fill="#1a1a1a">S5</text>
<line x1="624.8" y1="51.6" x2="648.7" y2="51.6" stroke="#1F68AC" stroke-width="0.7"/>
<circle cx="636.75" cy="51.6" r="1.65" fill="#fff" stroke="#1F68AC" stroke-opacity="0.6" stroke-width="0.5"/><path d="M635,51.5A1.75,1.75 0 0 0 638.5,51.5Z" fill="#1F68AC"/>
<text x="651.6" y="55.2" font-size="10" fill="#1a1a1a">S6</text>
<text x="124.7" y="250.6" font-size="10" text-anchor="middle" fill="#1a1a1a">(d)</text>
<clipPath id="clipd"><rect x="30.5" y="253.39999999999998" width="181.4" height="209.90000000000003"/></clipPath>
<g clip-path="url(#clipd)">
<polyline points="33.5,438.4 37.88,433.1 42.27,426.3 46.66,418.3 51.04,409 55.42,393.8 59.81,369.1 64.19,356.5 68.58,364.9 72.97,340.3 77.35,361 81.73,319.3 86.12,334.6 90.51,306.6 94.89,297 99.28,295.6 103.66,291.4 108.05,288.5 112.43,295.6 116.81,302 121.2,312.5 125.59,319.2 129.97,316.1 134.36,327.6 138.74,332.4 143.12,351.6 147.51,348 151.9,358.6 156.28,366.5 160.67,369.2 165.05,375.6 169.44,382.6 173.82,389.4 178.2,394.1 182.59,404.7 186.97,410.6 191.36,417 195.75,412.7 200.13,417.4 204.52,423.3 208.9,428.6" fill="none" stroke="#E8772A" stroke-width="0.8" stroke-linejoin="round"/>
<path d="M31,438.4L34.8,436.4L34.8,440.4Z" fill="#E8772A"/>
<path d="M35.38,433.1L39.18,431.1L39.18,435.1Z" fill="#E8772A"/>
<path d="M39.77,426.3L43.57,424.3L43.57,428.3Z" fill="#E8772A"/>
<path d="M44.16,418.3L47.95,416.3L47.95,420.3Z" fill="#E8772A"/>
<path d="M48.54,409L52.34,407L52.34,411Z" fill="#E8772A"/>
<path d="M52.92,393.8L56.72,391.8L56.72,395.8Z" fill="#E8772A"/>
<path d="M57.31,369.1L61.11,367.1L61.11,371.1Z" fill="#E8772A"/>
<path d="M61.69,356.5L65.49,354.5L65.49,358.5Z" fill="#E8772A"/>
<path d="M66.08,364.9L69.88,362.9L69.88,366.9Z" fill="#E8772A"/>
<path d="M70.47,340.3L74.27,338.3L74.27,342.3Z" fill="#E8772A"/>
<path d="M74.85,361L78.65,359L78.65,363Z" fill="#E8772A"/>
<path d="M79.23,319.3L83.03,317.3L83.03,321.3Z" fill="#E8772A"/>
<path d="M83.62,334.6L87.42,332.6L87.42,336.6Z" fill="#E8772A"/>
<path d="M88.01,306.6L91.81,304.6L91.81,308.6Z" fill="#E8772A"/>
<path d="M92.39,297L96.19,295L96.19,299Z" fill="#E8772A"/>
<path d="M96.78,295.6L100.58,293.6L100.58,297.6Z" fill="#E8772A"/>
<path d="M101.16,291.4L104.96,289.4L104.96,293.4Z" fill="#E8772A"/>
<path d="M105.55,288.5L109.34,286.5L109.34,290.5Z" fill="#E8772A"/>
<path d="M109.93,295.6L113.73,293.6L113.73,297.6Z" fill="#E8772A"/>
<path d="M114.31,302L118.11,300L118.11,304Z" fill="#E8772A"/>
<path d="M118.7,312.5L122.5,310.5L122.5,314.5Z" fill="#E8772A"/>
<path d="M123.09,319.2L126.89,317.2L126.89,321.2Z" fill="#E8772A"/>
<path d="M127.47,316.1L131.27,314.1L131.27,318.1Z" fill="#E8772A"/>
<path d="M131.86,327.6L135.66,325.6L135.66,329.6Z" fill="#E8772A"/>
<path d="M136.24,332.4L140.04,330.4L140.04,334.4Z" fill="#E8772A"/>
<path d="M140.62,351.6L144.43,349.6L144.43,353.6Z" fill="#E8772A"/>
<path d="M145.01,348L148.81,346L148.81,350Z" fill="#E8772A"/>
<path d="M149.4,358.6L153.2,356.6L153.2,360.6Z" fill="#E8772A"/>
<path d="M153.78,366.5L157.58,364.5L157.58,368.5Z" fill="#E8772A"/>
<path d="M158.17,369.2L161.97,367.2L161.97,371.2Z" fill="#E8772A"/>
<path d="M162.55,375.6L166.35,373.6L166.35,377.6Z" fill="#E8772A"/>
<path d="M166.94,382.6L170.74,380.6L170.74,384.6Z" fill="#E8772A"/>
<path d="M171.32,389.4L175.12,387.4L175.12,391.4Z" fill="#E8772A"/>
<path d="M175.7,394.1L179.5,392.1L179.5,396.1Z" fill="#E8772A"/>
<path d="M180.09,404.7L183.89,402.7L183.89,406.7Z" fill="#E8772A"/>
<path d="M184.47,410.6L188.28,408.6L188.28,412.6Z" fill="#E8772A"/>
<path d="M188.86,417L192.66,415L192.66,419Z" fill="#E8772A"/>
<path d="M193.25,412.7L197.05,410.7L197.05,414.7Z" fill="#E8772A"/>
<path d="M197.63,417.4L201.43,415.4L201.43,419.4Z" fill="#E8772A"/>
<path d="M202.02,423.3L205.82,421.3L205.82,425.3Z" fill="#E8772A"/>
<path d="M206.4,428.6L210.2,426.6L210.2,430.6Z" fill="#E8772A"/>
<polyline points="33.5,438.4 37.88,428.9 42.27,427.6 46.66,412.4 51.04,402.8 55.42,383.7 59.81,371.8 64.19,370.7 68.58,361.3 72.97,342.9 77.35,330 81.73,350.5 86.12,337.8 90.51,317.6 94.89,300.7 99.28,297.3 103.66,293.9 108.05,290.5 112.43,288 116.81,285.4 121.2,282.9 125.59,281.1 129.97,285.6 134.36,291.7 138.74,287.3 143.12,303.6 147.51,309.3 151.9,314.9 156.28,319.2 160.67,317.8 165.05,331.5 169.44,330.9 173.82,334 178.2,340.7 182.59,347.5 186.97,352.9 191.36,358 195.75,363.5 200.13,369.2 204.52,374.5 208.9,377.7" fill="none" stroke="#2C9E44" stroke-width="0.8" stroke-linejoin="round"/>
<path d="M33.5,436.1L34.09,437.59L35.69,437.69L34.45,438.71L34.85,440.26L33.5,439.4L32.15,440.26L32.55,438.71L31.31,437.69L32.91,437.59Z" fill="#2C9E44"/>
<path d="M37.88,426.6L38.47,428.09L40.07,428.19L38.84,429.21L39.24,430.76L37.88,429.9L36.53,430.76L36.93,429.21L35.7,428.19L37.3,428.09Z" fill="#2C9E44"/>
<path d="M42.27,425.3L42.86,426.79L44.46,426.89L43.22,427.91L43.62,429.46L42.27,428.6L40.92,429.46L41.32,427.91L40.08,426.89L41.68,426.79Z" fill="#2C9E44"/>
<path d="M46.66,410.1L47.24,411.59L48.84,411.69L47.61,412.71L48.01,414.26L46.66,413.4L45.3,414.26L45.7,412.71L44.47,411.69L46.07,411.59Z" fill="#2C9E44"/>
<path d="M51.04,400.5L51.63,401.99L53.23,402.09L51.99,403.11L52.39,404.66L51.04,403.8L49.69,404.66L50.09,403.11L48.85,402.09L50.45,401.99Z" fill="#2C9E44"/>
<path d="M55.42,381.4L56.01,382.89L57.61,382.99L56.38,384.01L56.78,385.56L55.42,384.7L54.07,385.56L54.47,384.01L53.24,382.99L54.84,382.89Z" fill="#2C9E44"/>
<path d="M59.81,369.5L60.4,370.99L62,371.09L60.76,372.11L61.16,373.66L59.81,372.8L58.46,373.66L58.86,372.11L57.62,371.09L59.22,370.99Z" fill="#2C9E44"/>
<path d="M64.19,368.4L64.78,369.89L66.38,369.99L65.15,371.01L65.55,372.56L64.19,371.7L62.84,372.56L63.24,371.01L62.01,369.99L63.61,369.89Z" fill="#2C9E44"/>
<path d="M68.58,359L69.17,360.49L70.77,360.59L69.53,361.61L69.93,363.16L68.58,362.3L67.23,363.16L67.63,361.61L66.39,360.59L67.99,360.49Z" fill="#2C9E44"/>
<path d="M72.97,340.6L73.55,342.09L75.15,342.19L73.92,343.21L74.32,344.76L72.97,343.9L71.61,344.76L72.01,343.21L70.78,342.19L72.38,342.09Z" fill="#2C9E44"/>
<path d="M77.35,327.7L77.94,329.19L79.54,329.29L78.3,330.31L78.7,331.86L77.35,331L76,331.86L76.4,330.31L75.16,329.29L76.76,329.19Z" fill="#2C9E44"/>
<path d="M81.73,348.2L82.32,349.69L83.92,349.79L82.69,350.81L83.09,352.36L81.73,351.5L80.38,352.36L80.78,350.81L79.55,349.79L81.15,349.69Z" fill="#2C9E44"/>
<path d="M86.12,335.5L86.71,336.99L88.31,337.09L87.07,338.11L87.47,339.66L86.12,338.8L84.77,339.66L85.17,338.11L83.93,337.09L85.53,336.99Z" fill="#2C9E44"/>
<path d="M90.51,315.3L91.09,316.79L92.69,316.89L91.46,317.91L91.86,319.46L90.51,318.6L89.15,319.46L89.55,317.91L88.32,316.89L89.92,316.79Z" fill="#2C9E44"/>
<path d="M94.89,298.4L95.48,299.89L97.08,299.99L95.84,301.01L96.24,302.56L94.89,301.7L93.54,302.56L93.94,301.01L92.7,299.99L94.3,299.89Z" fill="#2C9E44"/>
<path d="M99.28,295L99.86,296.49L101.46,296.59L100.23,297.61L100.63,299.16L99.28,298.3L97.92,299.16L98.32,297.61L97.09,296.59L98.69,296.49Z" fill="#2C9E44"/>
<path d="M103.66,291.6L104.25,293.09L105.85,293.19L104.61,294.21L105.01,295.76L103.66,294.9L102.31,295.76L102.71,294.21L101.47,293.19L103.07,293.09Z" fill="#2C9E44"/>
<path d="M108.05,288.2L108.63,289.69L110.23,289.79L109,290.81L109.4,292.36L108.05,291.5L106.69,292.36L107.09,290.81L105.86,289.79L107.46,289.69Z" fill="#2C9E44"/>
<path d="M112.43,285.7L113.02,287.19L114.62,287.29L113.38,288.31L113.78,289.86L112.43,289L111.08,289.86L111.48,288.31L110.24,287.29L111.84,287.19Z" fill="#2C9E44"/>
<path d="M116.81,283.1L117.4,284.59L119,284.69L117.77,285.71L118.17,287.26L116.81,286.4L115.46,287.26L115.86,285.71L114.63,284.69L116.23,284.59Z" fill="#2C9E44"/>
<path d="M121.2,280.6L121.79,282.09L123.39,282.19L122.15,283.21L122.55,284.76L121.2,283.9L119.85,284.76L120.25,283.21L119.01,282.19L120.61,282.09Z" fill="#2C9E44"/>
<path d="M125.59,278.8L126.17,280.29L127.77,280.39L126.54,281.41L126.94,282.96L125.59,282.1L124.23,282.96L124.63,281.41L123.4,280.39L125,280.29Z" fill="#2C9E44"/>
<path d="M129.97,283.3L130.56,284.79L132.16,284.89L130.92,285.91L131.32,287.46L129.97,286.6L128.62,287.46L129.02,285.91L127.78,284.89L129.38,284.79Z" fill="#2C9E44"/>
<path d="M134.36,289.4L134.94,290.89L136.54,290.99L135.31,292.01L135.71,293.56L134.36,292.7L133,293.56L133.4,292.01L132.17,290.99L133.77,290.89Z" fill="#2C9E44"/>
<path d="M138.74,285L139.33,286.49L140.93,286.59L139.69,287.61L140.09,289.16L138.74,288.3L137.39,289.16L137.79,287.61L136.55,286.59L138.15,286.49Z" fill="#2C9E44"/>
<path d="M143.12,301.3L143.71,302.79L145.31,302.89L144.08,303.91L144.48,305.46L143.12,304.6L141.77,305.46L142.17,303.91L140.94,302.89L142.54,302.79Z" fill="#2C9E44"/>
<path d="M147.51,307L148.1,308.49L149.7,308.59L148.46,309.61L148.86,311.16L147.51,310.3L146.16,311.16L146.56,309.61L145.32,308.59L146.92,308.49Z" fill="#2C9E44"/>
<path d="M151.9,312.6L152.48,314.09L154.08,314.19L152.85,315.21L153.25,316.76L151.9,315.9L150.54,316.76L150.94,315.21L149.71,314.19L151.31,314.09Z" fill="#2C9E44"/>
<path d="M156.28,316.9L156.87,318.39L158.47,318.49L157.23,319.51L157.63,321.06L156.28,320.2L154.93,321.06L155.33,319.51L154.09,318.49L155.69,318.39Z" fill="#2C9E44"/>
<path d="M160.67,315.5L161.25,316.99L162.85,317.09L161.62,318.11L162.02,319.66L160.67,318.8L159.31,319.66L159.71,318.11L158.48,317.09L160.08,316.99Z" fill="#2C9E44"/>
<path d="M165.05,329.2L165.64,330.69L167.24,330.79L166,331.81L166.4,333.36L165.05,332.5L163.7,333.36L164.1,331.81L162.86,330.79L164.46,330.69Z" fill="#2C9E44"/>
<path d="M169.44,328.6L170.02,330.09L171.62,330.19L170.39,331.21L170.79,332.76L169.44,331.9L168.08,332.76L168.48,331.21L167.25,330.19L168.85,330.09Z" fill="#2C9E44"/>
<path d="M173.82,331.7L174.41,333.19L176.01,333.29L174.77,334.31L175.17,335.86L173.82,335L172.47,335.86L172.87,334.31L171.63,333.29L173.23,333.19Z" fill="#2C9E44"/>
<path d="M178.2,338.4L178.79,339.89L180.39,339.99L179.16,341.01L179.56,342.56L178.2,341.7L176.85,342.56L177.25,341.01L176.02,339.99L177.62,339.89Z" fill="#2C9E44"/>
<path d="M182.59,345.2L183.18,346.69L184.78,346.79L183.54,347.81L183.94,349.36L182.59,348.5L181.24,349.36L181.64,347.81L180.4,346.79L182,346.69Z" fill="#2C9E44"/>
<path d="M186.97,350.6L187.56,352.09L189.16,352.19L187.93,353.21L188.33,354.76L186.97,353.9L185.62,354.76L186.02,353.21L184.79,352.19L186.39,352.09Z" fill="#2C9E44"/>
<path d="M191.36,355.7L191.95,357.19L193.55,357.29L192.31,358.31L192.71,359.86L191.36,359L190.01,359.86L190.41,358.31L189.17,357.29L190.77,357.19Z" fill="#2C9E44"/>
<path d="M195.75,361.2L196.33,362.69L197.93,362.79L196.7,363.81L197.1,365.36L195.75,364.5L194.39,365.36L194.79,363.81L193.56,362.79L195.16,362.69Z" fill="#2C9E44"/>
<path d="M200.13,366.9L200.72,368.39L202.32,368.49L201.08,369.51L201.48,371.06L200.13,370.2L198.78,371.06L199.18,369.51L197.94,368.49L199.54,368.39Z" fill="#2C9E44"/>
<path d="M204.52,372.2L205.1,373.69L206.7,373.79L205.47,374.81L205.87,376.36L204.52,375.5L203.16,376.36L203.56,374.81L202.33,373.79L203.93,373.69Z" fill="#2C9E44"/>
<path d="M208.9,375.4L209.49,376.89L211.09,376.99L209.85,378.01L210.25,379.56L208.9,378.7L207.55,379.56L207.95,378.01L206.71,376.99L208.31,376.89Z" fill="#2C9E44"/>
<polyline points="33.5,438.4 37.88,425.7 42.27,422.9 46.66,411.1 51.04,401.9 55.42,397.1 59.81,349.2 64.19,370 68.58,327.6 72.97,334.7 77.35,315.6 81.73,312.5 86.12,307.1 90.51,302.4 94.89,271 99.28,277.8 103.66,283.7 108.05,289.7 112.43,293.9 116.81,302.4 121.2,310.5 125.59,313.5 129.97,319.2 134.36,329 138.74,334.7 143.12,332.5 147.51,336.9 151.9,343.8 156.28,352.3 160.67,355.5 165.05,362.9 169.44,367.8 173.82,369.2 178.2,379.2 182.59,377.7 186.97,384.7 191.36,391.1 195.75,394.7 200.13,399.6 204.52,404.2 208.9,408.5" fill="none" stroke="#1F68AC" stroke-width="0.8" stroke-linejoin="round"/>
<circle cx="33.5" cy="438.4" r="1.65" fill="#fff" stroke="#1F68AC" stroke-opacity="0.6" stroke-width="0.5"/><path d="M31.75,438.3A1.75,1.75 0 0 0 35.25,438.3Z" fill="#1F68AC"/>
<circle cx="37.88" cy="425.7" r="1.65" fill="#fff" stroke="#1F68AC" stroke-opacity="0.6" stroke-width="0.5"/><path d="M36.13,425.6A1.75,1.75 0 0 0 39.63,425.6Z" fill="#1F68AC"/>
<circle cx="42.27" cy="422.9" r="1.65" fill="#fff" stroke="#1F68AC" stroke-opacity="0.6" stroke-width="0.5"/><path d="M40.52,422.8A1.75,1.75 0 0 0 44.02,422.8Z" fill="#1F68AC"/>
<circle cx="46.66" cy="411.1" r="1.65" fill="#fff" stroke="#1F68AC" stroke-opacity="0.6" stroke-width="0.5"/><path d="M44.91,411A1.75,1.75 0 0 0 48.41,411Z" fill="#1F68AC"/>
<circle cx="51.04" cy="401.9" r="1.65" fill="#fff" stroke="#1F68AC" stroke-opacity="0.6" stroke-width="0.5"/><path d="M49.29,401.8A1.75,1.75 0 0 0 52.79,401.8Z" fill="#1F68AC"/>
<circle cx="55.42" cy="397.1" r="1.65" fill="#fff" stroke="#1F68AC" stroke-opacity="0.6" stroke-width="0.5"/><path d="M53.67,397A1.75,1.75 0 0 0 57.17,397Z" fill="#1F68AC"/>
<circle cx="59.81" cy="349.2" r="1.65" fill="#fff" stroke="#1F68AC" stroke-opacity="0.6" stroke-width="0.5"/><path d="M58.06,349.1A1.75,1.75 0 0 0 61.56,349.1Z" fill="#1F68AC"/>
<circle cx="64.19" cy="370" r="1.65" fill="#fff" stroke="#1F68AC" stroke-opacity="0.6" stroke-width="0.5"/><path d="M62.44,369.9A1.75,1.75 0 0 0 65.94,369.9Z" fill="#1F68AC"/>
<circle cx="68.58" cy="327.6" r="1.65" fill="#fff" stroke="#1F68AC" stroke-opacity="0.6" stroke-width="0.5"/><path d="M66.83,327.5A1.75,1.75 0 0 0 70.33,327.5Z" fill="#1F68AC"/>
<circle cx="72.97" cy="334.7" r="1.65" fill="#fff" stroke="#1F68AC" stroke-opacity="0.6" stroke-width="0.5"/><path d="M71.22,334.6A1.75,1.75 0 0 0 74.72,334.6Z" fill="#1F68AC"/>
<circle cx="77.35" cy="315.6" r="1.65" fill="#fff" stroke="#1F68AC" stroke-opacity="0.6" stroke-width="0.5"/><path d="M75.6,315.5A1.75,1.75 0 0 0 79.1,315.5Z" fill="#1F68AC"/>
<circle cx="81.73" cy="312.5" r="1.65" fill="#fff" stroke="#1F68AC" stroke-opacity="0.6" stroke-width="0.5"/><path d="M79.98,312.4A1.75,1.75 0 0 0 83.48,312.4Z" fill="#1F68AC"/>
<circle cx="86.12" cy="307.1" r="1.65" fill="#fff" stroke="#1F68AC" stroke-opacity="0.6" stroke-width="0.5"/><path d="M84.37,307A1.75,1.75 0 0 0 87.87,307Z" fill="#1F68AC"/>
<circle cx="90.51" cy="302.4" r="1.65" fill="#fff" stroke="#1F68AC" stroke-opacity="0.6" stroke-width="0.5"/><path d="M88.76,302.3A1.75,1.75 0 0 0 92.26,302.3Z" fill="#1F68AC"/>
<circle cx="94.89" cy="271" r="1.65" fill="#fff" stroke="#1F68AC" stroke-opacity="0.6" stroke-width="0.5"/><path d="M93.14,270.9A1.75,1.75 0 0 0 96.64,270.9Z" fill="#1F68AC"/>
<circle cx="99.28" cy="277.8" r="1.65" fill="#fff" stroke="#1F68AC" stroke-opacity="0.6" stroke-width="0.5"/><path d="M97.53,277.7A1.75,1.75 0 0 0 101.03,277.7Z" fill="#1F68AC"/>
<circle cx="103.66" cy="283.7" r="1.65" fill="#fff" stroke="#1F68AC" stroke-opacity="0.6" stroke-width="0.5"/><path d="M101.91,283.6A1.75,1.75 0 0 0 105.41,283.6Z" fill="#1F68AC"/>
<circle cx="108.05" cy="289.7" r="1.65" fill="#fff" stroke="#1F68AC" stroke-opacity="0.6" stroke-width="0.5"/><path d="M106.3,289.6A1.75,1.75 0 0 0 109.8,289.6Z" fill="#1F68AC"/>
<circle cx="112.43" cy="293.9" r="1.65" fill="#fff" stroke="#1F68AC" stroke-opacity="0.6" stroke-width="0.5"/><path d="M110.68,293.8A1.75,1.75 0 0 0 114.18,293.8Z" fill="#1F68AC"/>
<circle cx="116.81" cy="302.4" r="1.65" fill="#fff" stroke="#1F68AC" stroke-opacity="0.6" stroke-width="0.5"/><path d="M115.06,302.3A1.75,1.75 0 0 0 118.56,302.3Z" fill="#1F68AC"/>
<circle cx="121.2" cy="310.5" r="1.65" fill="#fff" stroke="#1F68AC" stroke-opacity="0.6" stroke-width="0.5"/><path d="M119.45,310.4A1.75,1.75 0 0 0 122.95,310.4Z" fill="#1F68AC"/>
<circle cx="125.59" cy="313.5" r="1.65" fill="#fff" stroke="#1F68AC" stroke-opacity="0.6" stroke-width="0.5"/><path d="M123.84,313.4A1.75,1.75 0 0 0 127.34,313.4Z" fill="#1F68AC"/>
<circle cx="129.97" cy="319.2" r="1.65" fill="#fff" stroke="#1F68AC" stroke-opacity="0.6" stroke-width="0.5"/><path d="M128.22,319.1A1.75,1.75 0 0 0 131.72,319.1Z" fill="#1F68AC"/>
<circle cx="134.36" cy="329" r="1.65" fill="#fff" stroke="#1F68AC" stroke-opacity="0.6" stroke-width="0.5"/><path d="M132.61,328.9A1.75,1.75 0 0 0 136.11,328.9Z" fill="#1F68AC"/>
<circle cx="138.74" cy="334.7" r="1.65" fill="#fff" stroke="#1F68AC" stroke-opacity="0.6" stroke-width="0.5"/><path d="M136.99,334.6A1.75,1.75 0 0 0 140.49,334.6Z" fill="#1F68AC"/>
<circle cx="143.12" cy="332.5" r="1.65" fill="#fff" stroke="#1F68AC" stroke-opacity="0.6" stroke-width="0.5"/><path d="M141.38,332.4A1.75,1.75 0 0 0 144.88,332.4Z" fill="#1F68AC"/>
<circle cx="147.51" cy="336.9" r="1.65" fill="#fff" stroke="#1F68AC" stroke-opacity="0.6" stroke-width="0.5"/><path d="M145.76,336.8A1.75,1.75 0 0 0 149.26,336.8Z" fill="#1F68AC"/>
<circle cx="151.9" cy="343.8" r="1.65" fill="#fff" stroke="#1F68AC" stroke-opacity="0.6" stroke-width="0.5"/><path d="M150.15,343.7A1.75,1.75 0 0 0 153.65,343.7Z" fill="#1F68AC"/>
<circle cx="156.28" cy="352.3" r="1.65" fill="#fff" stroke="#1F68AC" stroke-opacity="0.6" stroke-width="0.5"/><path d="M154.53,352.2A1.75,1.75 0 0 0 158.03,352.2Z" fill="#1F68AC"/>
<circle cx="160.67" cy="355.5" r="1.65" fill="#fff" stroke="#1F68AC" stroke-opacity="0.6" stroke-width="0.5"/><path d="M158.92,355.4A1.75,1.75 0 0 0 162.42,355.4Z" fill="#1F68AC"/>
<circle cx="165.05" cy="362.9" r="1.65" fill="#fff" stroke="#1F68AC" stroke-opacity="0.6" stroke-width="0.5"/><path d="M163.3,362.8A1.75,1.75 0 0 0 166.8,362.8Z" fill="#1F68AC"/>
<circle cx="169.44" cy="367.8" r="1.65" fill="#fff" stroke="#1F68AC" stroke-opacity="0.6" stroke-width="0.5"/><path d="M167.69,367.7A1.75,1.75 0 0 0 171.19,367.7Z" fill="#1F68AC"/>
<circle cx="173.82" cy="369.2" r="1.65" fill="#fff" stroke="#1F68AC" stroke-opacity="0.6" stroke-width="0.5"/><path d="M172.07,369.1A1.75,1.75 0 0 0 175.57,369.1Z" fill="#1F68AC"/>
<circle cx="178.2" cy="379.2" r="1.65" fill="#fff" stroke="#1F68AC" stroke-opacity="0.6" stroke-width="0.5"/><path d="M176.45,379.1A1.75,1.75 0 0 0 179.95,379.1Z" fill="#1F68AC"/>
<circle cx="182.59" cy="377.7" r="1.65" fill="#fff" stroke="#1F68AC" stroke-opacity="0.6" stroke-width="0.5"/><path d="M180.84,377.6A1.75,1.75 0 0 0 184.34,377.6Z" fill="#1F68AC"/>
<circle cx="186.97" cy="384.7" r="1.65" fill="#fff" stroke="#1F68AC" stroke-opacity="0.6" stroke-width="0.5"/><path d="M185.22,384.6A1.75,1.75 0 0 0 188.72,384.6Z" fill="#1F68AC"/>
<circle cx="191.36" cy="391.1" r="1.65" fill="#fff" stroke="#1F68AC" stroke-opacity="0.6" stroke-width="0.5"/><path d="M189.61,391A1.75,1.75 0 0 0 193.11,391Z" fill="#1F68AC"/>
<circle cx="195.75" cy="394.7" r="1.65" fill="#fff" stroke="#1F68AC" stroke-opacity="0.6" stroke-width="0.5"/><path d="M194,394.6A1.75,1.75 0 0 0 197.5,394.6Z" fill="#1F68AC"/>
<circle cx="200.13" cy="399.6" r="1.65" fill="#fff" stroke="#1F68AC" stroke-opacity="0.6" stroke-width="0.5"/><path d="M198.38,399.5A1.75,1.75 0 0 0 201.88,399.5Z" fill="#1F68AC"/>
<circle cx="204.52" cy="404.2" r="1.65" fill="#fff" stroke="#1F68AC" stroke-opacity="0.6" stroke-width="0.5"/><path d="M202.77,404.1A1.75,1.75 0 0 0 206.27,404.1Z" fill="#1F68AC"/>
<circle cx="208.9" cy="408.5" r="1.65" fill="#fff" stroke="#1F68AC" stroke-opacity="0.6" stroke-width="0.5"/><path d="M207.15,408.4A1.75,1.75 0 0 0 210.65,408.4Z" fill="#1F68AC"/>
</g>
<rect x="33.5" y="256.4" width="175.4" height="203.9" fill="none" stroke="#5a5a5a" stroke-width="1"/>
<line x1="33.5" y1="460.3" x2="33.5" y2="457.3" stroke="#5a5a5a" stroke-width="1"/>
<text x="33.5" y="472.6" font-size="10.35" text-anchor="middle" fill="#1a1a1a">2020</text>
<line x1="55.42" y1="460.3" x2="55.42" y2="458.7" stroke="#5a5a5a" stroke-width="1"/>
<line x1="77.35" y1="460.3" x2="77.35" y2="457.3" stroke="#5a5a5a" stroke-width="1"/>
<text x="77.35" y="472.6" font-size="10.35" text-anchor="middle" fill="#1a1a1a">2030</text>
<line x1="99.28" y1="460.3" x2="99.28" y2="458.7" stroke="#5a5a5a" stroke-width="1"/>
<line x1="121.2" y1="460.3" x2="121.2" y2="457.3" stroke="#5a5a5a" stroke-width="1"/>
<text x="121.2" y="472.6" font-size="10.35" text-anchor="middle" fill="#1a1a1a">2040</text>
<line x1="143.12" y1="460.3" x2="143.12" y2="458.7" stroke="#5a5a5a" stroke-width="1"/>
<line x1="165.05" y1="460.3" x2="165.05" y2="457.3" stroke="#5a5a5a" stroke-width="1"/>
<text x="165.05" y="472.6" font-size="10.35" text-anchor="middle" fill="#1a1a1a">2050</text>
<line x1="186.97" y1="460.3" x2="186.97" y2="458.7" stroke="#5a5a5a" stroke-width="1"/>
<line x1="208.9" y1="460.3" x2="208.9" y2="457.3" stroke="#5a5a5a" stroke-width="1"/>
<text x="208.9" y="472.6" font-size="10.35" text-anchor="middle" fill="#1a1a1a">2060</text>
<line x1="33.5" y1="414.99" x2="36.5" y2="414.99" stroke="#5a5a5a" stroke-width="1"/>
<text x="29.7" y="418.59" font-size="10.3" text-anchor="end" fill="#1a1a1a">50</text>
<line x1="33.5" y1="358.35" x2="36.5" y2="358.35" stroke="#5a5a5a" stroke-width="1"/>
<text x="29.7" y="361.95" font-size="10.3" text-anchor="end" fill="#1a1a1a">100</text>
<line x1="33.5" y1="301.71" x2="36.5" y2="301.71" stroke="#5a5a5a" stroke-width="1"/>
<text x="29.7" y="305.31" font-size="10.3" text-anchor="end" fill="#1a1a1a">150</text>
<line x1="33.5" y1="443.31" x2="35.1" y2="443.31" stroke="#5a5a5a" stroke-width="1"/>
<line x1="33.5" y1="386.67" x2="35.1" y2="386.67" stroke="#5a5a5a" stroke-width="1"/>
<line x1="33.5" y1="330.03" x2="35.1" y2="330.03" stroke="#5a5a5a" stroke-width="1"/>
<line x1="33.5" y1="273.39" x2="35.1" y2="273.39" stroke="#5a5a5a" stroke-width="1"/>
<text transform="translate(8.8,353.9) rotate(-90)" font-size="10.45" font-weight="bold" stroke-width="0.1" text-anchor="middle" fill="#1a1a1a">Trading volume (kilo tce)</text>
<line x1="161.1" y1="272.3" x2="184.8" y2="272.3" stroke="#E8772A" stroke-width="0.7"/>
<path d="M170.45,272.3L174.25,270.3L174.25,274.3Z" fill="#E8772A"/>
<text x="188.0" y="275.9" font-size="10" fill="#1a1a1a">S4</text>
<line x1="161.1" y1="285.6" x2="184.8" y2="285.6" stroke="#2C9E44" stroke-width="0.7"/>
<path d="M172.95,283.3L173.54,284.79L175.14,284.89L173.9,285.91L174.3,287.46L172.95,286.6L171.6,287.46L172,285.91L170.76,284.89L172.36,284.79Z" fill="#2C9E44"/>
<text x="188.0" y="289.2" font-size="10" fill="#1a1a1a">S5</text>
<line x1="161.1" y1="298.3" x2="184.8" y2="298.3" stroke="#1F68AC" stroke-width="0.7"/>
<circle cx="172.95" cy="298.3" r="1.65" fill="#fff" stroke="#1F68AC" stroke-opacity="0.6" stroke-width="0.5"/><path d="M171.2,298.2A1.75,1.75 0 0 0 174.7,298.2Z" fill="#1F68AC"/>
<text x="188.0" y="301.9" font-size="10" fill="#1a1a1a">S6</text>
<text x="357.25" y="250.6" font-size="10" text-anchor="middle" fill="#1a1a1a">(e)</text>
<clipPath id="clipe"><rect x="263.0" y="253.39999999999998" width="181.5" height="209.90000000000003"/></clipPath>
<g clip-path="url(#clipe)">
<polyline points="266,431.6 270.39,413.5 274.77,397 279.16,380.7 283.55,370.5 287.94,359.7 292.32,338.6 296.71,329.7 301.1,314.4 305.49,307.6 309.88,312.2 314.26,314.4 318.65,304.2 323.04,307.6 327.43,314.9 331.81,317.3 336.2,319.5 340.59,312.2 344.98,306 349.36,319.7 353.75,323 358.14,322.5 362.52,320.8 366.91,315.1 371.3,307.8 375.69,308.3 380.07,315.8 384.46,315.4 388.85,323 393.24,321.2 397.62,327.1 402.01,334.7 406.4,335.9 410.79,359.4 415.18,362.5 419.56,367.1 423.95,368.7 428.34,376.5 432.73,376.7 437.11,387.5 441.5,384.9" fill="none" stroke="#E8772A" stroke-width="0.8" stroke-linejoin="round"/>
<path d="M263.5,431.6L267.3,429.6L267.3,433.6Z" fill="#E8772A"/>
<path d="M267.89,413.5L271.69,411.5L271.69,415.5Z" fill="#E8772A"/>
<path d="M272.27,397L276.07,395L276.07,399Z" fill="#E8772A"/>
<path d="M276.66,380.7L280.46,378.7L280.46,382.7Z" fill="#E8772A"/>
<path d="M281.05,370.5L284.85,368.5L284.85,372.5Z" fill="#E8772A"/>
<path d="M285.44,359.7L289.24,357.7L289.24,361.7Z" fill="#E8772A"/>
<path d="M289.82,338.6L293.62,336.6L293.62,340.6Z" fill="#E8772A"/>
<path d="M294.21,329.7L298.01,327.7L298.01,331.7Z" fill="#E8772A"/>
<path d="M298.6,314.4L302.4,312.4L302.4,316.4Z" fill="#E8772A"/>
<path d="M302.99,307.6L306.79,305.6L306.79,309.6Z" fill="#E8772A"/>
<path d="M307.38,312.2L311.18,310.2L311.18,314.2Z" fill="#E8772A"/>
<path d="M311.76,314.4L315.56,312.4L315.56,316.4Z" fill="#E8772A"/>
<path d="M316.15,304.2L319.95,302.2L319.95,306.2Z" fill="#E8772A"/>
<path d="M320.54,307.6L324.34,305.6L324.34,309.6Z" fill="#E8772A"/>
<path d="M324.93,314.9L328.73,312.9L328.73,316.9Z" fill="#E8772A"/>
<path d="M329.31,317.3L333.11,315.3L333.11,319.3Z" fill="#E8772A"/>
<path d="M333.7,319.5L337.5,317.5L337.5,321.5Z" fill="#E8772A"/>
<path d="M338.09,312.2L341.89,310.2L341.89,314.2Z" fill="#E8772A"/>
<path d="M342.48,306L346.28,304L346.28,308Z" fill="#E8772A"/>
<path d="M346.86,319.7L350.66,317.7L350.66,321.7Z" fill="#E8772A"/>
<path d="M351.25,323L355.05,321L355.05,325Z" fill="#E8772A"/>
<path d="M355.64,322.5L359.44,320.5L359.44,324.5Z" fill="#E8772A"/>
<path d="M360.02,320.8L363.82,318.8L363.82,322.8Z" fill="#E8772A"/>
<path d="M364.41,315.1L368.21,313.1L368.21,317.1Z" fill="#E8772A"/>
<path d="M368.8,307.8L372.6,305.8L372.6,309.8Z" fill="#E8772A"/>
<path d="M373.19,308.3L376.99,306.3L376.99,310.3Z" fill="#E8772A"/>
<path d="M377.57,315.8L381.38,313.8L381.38,317.8Z" fill="#E8772A"/>
<path d="M381.96,315.4L385.76,313.4L385.76,317.4Z" fill="#E8772A"/>
<path d="M386.35,323L390.15,321L390.15,325Z" fill="#E8772A"/>
<path d="M390.74,321.2L394.54,319.2L394.54,323.2Z" fill="#E8772A"/>
<path d="M395.12,327.1L398.93,325.1L398.93,329.1Z" fill="#E8772A"/>
<path d="M399.51,334.7L403.31,332.7L403.31,336.7Z" fill="#E8772A"/>
<path d="M403.9,335.9L407.7,333.9L407.7,337.9Z" fill="#E8772A"/>
<path d="M408.29,359.4L412.09,357.4L412.09,361.4Z" fill="#E8772A"/>
<path d="M412.68,362.5L416.48,360.5L416.48,364.5Z" fill="#E8772A"/>
<path d="M417.06,367.1L420.86,365.1L420.86,369.1Z" fill="#E8772A"/>
<path d="M421.45,368.7L425.25,366.7L425.25,370.7Z" fill="#E8772A"/>
<path d="M425.84,376.5L429.64,374.5L429.64,378.5Z" fill="#E8772A"/>
<path d="M430.23,376.7L434.03,374.7L434.03,378.7Z" fill="#E8772A"/>
<path d="M434.61,387.5L438.41,385.5L438.41,389.5Z" fill="#E8772A"/>
<path d="M439,384.9L442.8,382.9L442.8,386.9Z" fill="#E8772A"/>
<polyline points="266,438.5 270.39,428.6 274.77,417.8 279.16,408.9 283.55,397.9 287.94,386.3 292.32,380.4 296.71,368.6 301.1,355.9 305.49,342.4 309.88,342.4 314.26,334.7 318.65,340.7 323.04,345.4 327.43,343.2 331.81,339 336.2,338.1 340.59,333.1 344.98,330 349.36,329.8 353.75,336.6 358.14,337.8 362.52,333.7 366.91,337.5 371.3,334.9 375.69,333.7 380.07,330.7 384.46,325.9 388.85,321.5 393.24,325.5 397.62,327.4 402.01,314.9 406.4,311.5 410.79,311.5 415.18,319 419.56,322.4 423.95,324.6 428.34,324.1 432.73,326.3 437.11,325.1 441.5,326.8" fill="none" stroke="#2C9E44" stroke-width="0.8" stroke-linejoin="round"/>
<path d="M266,436.2L266.59,437.69L268.19,437.79L266.95,438.81L267.35,440.36L266,439.5L264.65,440.36L265.05,438.81L263.81,437.79L265.41,437.69Z" fill="#2C9E44"/>
<path d="M270.39,426.3L270.98,427.79L272.57,427.89L271.34,428.91L271.74,430.46L270.39,429.6L269.04,430.46L269.44,428.91L268.2,427.89L269.8,427.79Z" fill="#2C9E44"/>
<path d="M274.77,415.5L275.36,416.99L276.96,417.09L275.73,418.11L276.13,419.66L274.77,418.8L273.42,419.66L273.82,418.11L272.59,417.09L274.19,416.99Z" fill="#2C9E44"/>
<path d="M279.16,406.6L279.75,408.09L281.35,408.19L280.11,409.21L280.51,410.76L279.16,409.9L277.81,410.76L278.21,409.21L276.98,408.19L278.57,408.09Z" fill="#2C9E44"/>
<path d="M283.55,395.6L284.14,397.09L285.74,397.19L284.5,398.21L284.9,399.76L283.55,398.9L282.2,399.76L282.6,398.21L281.36,397.19L282.96,397.09Z" fill="#2C9E44"/>
<path d="M287.94,384L288.53,385.49L290.12,385.59L288.89,386.61L289.29,388.16L287.94,387.3L286.59,388.16L286.99,386.61L285.75,385.59L287.35,385.49Z" fill="#2C9E44"/>
<path d="M292.32,378.1L292.91,379.59L294.51,379.69L293.28,380.71L293.68,382.26L292.32,381.4L290.97,382.26L291.37,380.71L290.14,379.69L291.74,379.59Z" fill="#2C9E44"/>
<path d="M296.71,366.3L297.3,367.79L298.9,367.89L297.66,368.91L298.06,370.46L296.71,369.6L295.36,370.46L295.76,368.91L294.53,367.89L296.12,367.79Z" fill="#2C9E44"/>
<path d="M301.1,353.6L301.69,355.09L303.29,355.19L302.05,356.21L302.45,357.76L301.1,356.9L299.75,357.76L300.15,356.21L298.91,355.19L300.51,355.09Z" fill="#2C9E44"/>
<path d="M305.49,340.1L306.08,341.59L307.67,341.69L306.44,342.71L306.84,344.26L305.49,343.4L304.14,344.26L304.54,342.71L303.3,341.69L304.9,341.59Z" fill="#2C9E44"/>
<path d="M309.88,340.1L310.46,341.59L312.06,341.69L310.83,342.71L311.23,344.26L309.88,343.4L308.52,344.26L308.92,342.71L307.69,341.69L309.29,341.59Z" fill="#2C9E44"/>
<path d="M314.26,332.4L314.85,333.89L316.45,333.99L315.21,335.01L315.61,336.56L314.26,335.7L312.91,336.56L313.31,335.01L312.08,333.99L313.67,333.89Z" fill="#2C9E44"/>
<path d="M318.65,338.4L319.24,339.89L320.84,339.99L319.6,341.01L320,342.56L318.65,341.7L317.3,342.56L317.7,341.01L316.46,339.99L318.06,339.89Z" fill="#2C9E44"/>
<path d="M323.04,343.1L323.63,344.59L325.22,344.69L323.99,345.71L324.39,347.26L323.04,346.4L321.69,347.26L322.09,345.71L320.85,344.69L322.45,344.59Z" fill="#2C9E44"/>
<path d="M327.43,340.9L328.01,342.39L329.61,342.49L328.38,343.51L328.78,345.06L327.43,344.2L326.07,345.06L326.47,343.51L325.24,342.49L326.84,342.39Z" fill="#2C9E44"/>
<path d="M331.81,336.7L332.4,338.19L334,338.29L332.76,339.31L333.16,340.86L331.81,340L330.46,340.86L330.86,339.31L329.63,338.29L331.22,338.19Z" fill="#2C9E44"/>
<path d="M336.2,335.8L336.79,337.29L338.39,337.39L337.15,338.41L337.55,339.96L336.2,339.1L334.85,339.96L335.25,338.41L334.01,337.39L335.61,337.29Z" fill="#2C9E44"/>
<path d="M340.59,330.8L341.18,332.29L342.77,332.39L341.54,333.41L341.94,334.96L340.59,334.1L339.24,334.96L339.64,333.41L338.4,332.39L340,332.29Z" fill="#2C9E44"/>
<path d="M344.98,327.7L345.56,329.19L347.16,329.29L345.93,330.31L346.33,331.86L344.98,331L343.62,331.86L344.02,330.31L342.79,329.29L344.39,329.19Z" fill="#2C9E44"/>
<path d="M349.36,327.5L349.95,328.99L351.55,329.09L350.31,330.11L350.71,331.66L349.36,330.8L348.01,331.66L348.41,330.11L347.18,329.09L348.77,328.99Z" fill="#2C9E44"/>
<path d="M353.75,334.3L354.34,335.79L355.94,335.89L354.7,336.91L355.1,338.46L353.75,337.6L352.4,338.46L352.8,336.91L351.56,335.89L353.16,335.79Z" fill="#2C9E44"/>
<path d="M358.14,335.5L358.73,336.99L360.32,337.09L359.09,338.11L359.49,339.66L358.14,338.8L356.79,339.66L357.19,338.11L355.95,337.09L357.55,336.99Z" fill="#2C9E44"/>
<path d="M362.52,331.4L363.11,332.89L364.71,332.99L363.48,334.01L363.88,335.56L362.52,334.7L361.17,335.56L361.57,334.01L360.34,332.99L361.94,332.89Z" fill="#2C9E44"/>
<path d="M366.91,335.2L367.5,336.69L369.1,336.79L367.86,337.81L368.26,339.36L366.91,338.5L365.56,339.36L365.96,337.81L364.73,336.79L366.32,336.69Z" fill="#2C9E44"/>
<path d="M371.3,332.6L371.89,334.09L373.49,334.19L372.25,335.21L372.65,336.76L371.3,335.9L369.95,336.76L370.35,335.21L369.11,334.19L370.71,334.09Z" fill="#2C9E44"/>
<path d="M375.69,331.4L376.28,332.89L377.87,332.99L376.64,334.01L377.04,335.56L375.69,334.7L374.34,335.56L374.74,334.01L373.5,332.99L375.1,332.89Z" fill="#2C9E44"/>
<path d="M380.07,328.4L380.66,329.89L382.26,329.99L381.03,331.01L381.43,332.56L380.07,331.7L378.72,332.56L379.12,331.01L377.89,329.99L379.49,329.89Z" fill="#2C9E44"/>
<path d="M384.46,323.6L385.05,325.09L386.65,325.19L385.41,326.21L385.81,327.76L384.46,326.9L383.11,327.76L383.51,326.21L382.28,325.19L383.87,325.09Z" fill="#2C9E44"/>
<path d="M388.85,319.2L389.44,320.69L391.04,320.79L389.8,321.81L390.2,323.36L388.85,322.5L387.5,323.36L387.9,321.81L386.66,320.79L388.26,320.69Z" fill="#2C9E44"/>
<path d="M393.24,323.2L393.83,324.69L395.42,324.79L394.19,325.81L394.59,327.36L393.24,326.5L391.89,327.36L392.29,325.81L391.05,324.79L392.65,324.69Z" fill="#2C9E44"/>
<path d="M397.62,325.1L398.21,326.59L399.81,326.69L398.58,327.71L398.98,329.26L397.62,328.4L396.27,329.26L396.67,327.71L395.44,326.69L397.04,326.59Z" fill="#2C9E44"/>
<path d="M402.01,312.6L402.6,314.09L404.2,314.19L402.96,315.21L403.36,316.76L402.01,315.9L400.66,316.76L401.06,315.21L399.83,314.19L401.42,314.09Z" fill="#2C9E44"/>
<path d="M406.4,309.2L406.99,310.69L408.59,310.79L407.35,311.81L407.75,313.36L406.4,312.5L405.05,313.36L405.45,311.81L404.21,310.79L405.81,310.69Z" fill="#2C9E44"/>
<path d="M410.79,309.2L411.38,310.69L412.97,310.79L411.74,311.81L412.14,313.36L410.79,312.5L409.44,313.36L409.84,311.81L408.6,310.79L410.2,310.69Z" fill="#2C9E44"/>
<path d="M415.18,316.7L415.76,318.19L417.36,318.29L416.13,319.31L416.53,320.86L415.18,320L413.82,320.86L414.22,319.31L412.99,318.29L414.59,318.19Z" fill="#2C9E44"/>
<path d="M419.56,320.1L420.15,321.59L421.75,321.69L420.51,322.71L420.91,324.26L419.56,323.4L418.21,324.26L418.61,322.71L417.38,321.69L418.97,321.59Z" fill="#2C9E44"/>
<path d="M423.95,322.3L424.54,323.79L426.14,323.89L424.9,324.91L425.3,326.46L423.95,325.6L422.6,326.46L423,324.91L421.76,323.89L423.36,323.79Z" fill="#2C9E44"/>
<path d="M428.34,321.8L428.93,323.29L430.52,323.39L429.29,324.41L429.69,325.96L428.34,325.1L426.99,325.96L427.39,324.41L426.15,323.39L427.75,323.29Z" fill="#2C9E44"/>
<path d="M432.73,324L433.31,325.49L434.91,325.59L433.68,326.61L434.08,328.16L432.73,327.3L431.37,328.16L431.77,326.61L430.54,325.59L432.14,325.49Z" fill="#2C9E44"/>
<path d="M437.11,322.8L437.7,324.29L439.3,324.39L438.06,325.41L438.46,326.96L437.11,326.1L435.76,326.96L436.16,325.41L434.93,324.39L436.52,324.29Z" fill="#2C9E44"/>
<path d="M441.5,324.5L442.09,325.99L443.69,326.09L442.45,327.11L442.85,328.66L441.5,327.8L440.15,328.66L440.55,327.11L439.31,326.09L440.91,325.99Z" fill="#2C9E44"/>
<polyline points="266,431.6 270.39,417.8 274.77,408.6 279.16,399.4 283.55,389.3 287.94,379.6 292.32,371.4 296.71,359.3 301.1,352.9 305.49,353.9 309.88,359.3 314.26,362.4 318.65,359.3 323.04,364.1 327.43,362.7 331.81,364.1 336.2,359.3 340.59,363 344.98,356.6 349.36,354.4 353.75,349.3 358.14,359.5 362.52,358.6 366.91,360.3 371.3,362 375.69,367.1 380.07,362 384.46,370.1 388.85,376.4 393.24,378.2 397.62,380.2 402.01,379.5 406.4,371.9 410.79,384.3 415.18,387.1 419.56,384.9 423.95,383.7 428.34,385.6 432.73,388.1 437.11,386.6 441.5,382.4" fill="none" stroke="#1F68AC" stroke-width="0.8" stroke-linejoin="round"/>
<circle cx="266" cy="431.6" r="1.65" fill="#fff" stroke="#1F68AC" stroke-opacity="0.6" stroke-width="0.5"/><path d="M264.25,431.5A1.75,1.75 0 0 0 267.75,431.5Z" fill="#1F68AC"/>
<circle cx="270.39" cy="417.8" r="1.65" fill="#fff" stroke="#1F68AC" stroke-opacity="0.6" stroke-width="0.5"/><path d="M268.64,417.7A1.75,1.75 0 0 0 272.14,417.7Z" fill="#1F68AC"/>
<circle cx="274.77" cy="408.6" r="1.65" fill="#fff" stroke="#1F68AC" stroke-opacity="0.6" stroke-width="0.5"/><path d="M273.02,408.5A1.75,1.75 0 0 0 276.52,408.5Z" fill="#1F68AC"/>
<circle cx="279.16" cy="399.4" r="1.65" fill="#fff" stroke="#1F68AC" stroke-opacity="0.6" stroke-width="0.5"/><path d="M277.41,399.3A1.75,1.75 0 0 0 280.91,399.3Z" fill="#1F68AC"/>
<circle cx="283.55" cy="389.3" r="1.65" fill="#fff" stroke="#1F68AC" stroke-opacity="0.6" stroke-width="0.5"/><path d="M281.8,389.2A1.75,1.75 0 0 0 285.3,389.2Z" fill="#1F68AC"/>
<circle cx="287.94" cy="379.6" r="1.65" fill="#fff" stroke="#1F68AC" stroke-opacity="0.6" stroke-width="0.5"/><path d="M286.19,379.5A1.75,1.75 0 0 0 289.69,379.5Z" fill="#1F68AC"/>
<circle cx="292.32" cy="371.4" r="1.65" fill="#fff" stroke="#1F68AC" stroke-opacity="0.6" stroke-width="0.5"/><path d="M290.57,371.3A1.75,1.75 0 0 0 294.07,371.3Z" fill="#1F68AC"/>
<circle cx="296.71" cy="359.3" r="1.65" fill="#fff" stroke="#1F68AC" stroke-opacity="0.6" stroke-width="0.5"/><path d="M294.96,359.2A1.75,1.75 0 0 0 298.46,359.2Z" fill="#1F68AC"/>
<circle cx="301.1" cy="352.9" r="1.65" fill="#fff" stroke="#1F68AC" stroke-opacity="0.6" stroke-width="0.5"/><path d="M299.35,352.8A1.75,1.75 0 0 0 302.85,352.8Z" fill="#1F68AC"/>
<circle cx="305.49" cy="353.9" r="1.65" fill="#fff" stroke="#1F68AC" stroke-opacity="0.6" stroke-width="0.5"/><path d="M303.74,353.8A1.75,1.75 0 0 0 307.24,353.8Z" fill="#1F68AC"/>
<circle cx="309.88" cy="359.3" r="1.65" fill="#fff" stroke="#1F68AC" stroke-opacity="0.6" stroke-width="0.5"/><path d="M308.12,359.2A1.75,1.75 0 0 0 311.62,359.2Z" fill="#1F68AC"/>
<circle cx="314.26" cy="362.4" r="1.65" fill="#fff" stroke="#1F68AC" stroke-opacity="0.6" stroke-width="0.5"/><path d="M312.51,362.3A1.75,1.75 0 0 0 316.01,362.3Z" fill="#1F68AC"/>
<circle cx="318.65" cy="359.3" r="1.65" fill="#fff" stroke="#1F68AC" stroke-opacity="0.6" stroke-width="0.5"/><path d="M316.9,359.2A1.75,1.75 0 0 0 320.4,359.2Z" fill="#1F68AC"/>
<circle cx="323.04" cy="364.1" r="1.65" fill="#fff" stroke="#1F68AC" stroke-opacity="0.6" stroke-width="0.5"/><path d="M321.29,364A1.75,1.75 0 0 0 324.79,364Z" fill="#1F68AC"/>
<circle cx="327.43" cy="362.7" r="1.65" fill="#fff" stroke="#1F68AC" stroke-opacity="0.6" stroke-width="0.5"/><path d="M325.68,362.6A1.75,1.75 0 0 0 329.18,362.6Z" fill="#1F68AC"/>
<circle cx="331.81" cy="364.1" r="1.65" fill="#fff" stroke="#1F68AC" stroke-opacity="0.6" stroke-width="0.5"/><path d="M330.06,364A1.75,1.75 0 0 0 333.56,364Z" fill="#1F68AC"/>
<circle cx="336.2" cy="359.3" r="1.65" fill="#fff" stroke="#1F68AC" stroke-opacity="0.6" stroke-width="0.5"/><path d="M334.45,359.2A1.75,1.75 0 0 0 337.95,359.2Z" fill="#1F68AC"/>
<circle cx="340.59" cy="363" r="1.65" fill="#fff" stroke="#1F68AC" stroke-opacity="0.6" stroke-width="0.5"/><path d="M338.84,362.9A1.75,1.75 0 0 0 342.34,362.9Z" fill="#1F68AC"/>
<circle cx="344.98" cy="356.6" r="1.65" fill="#fff" stroke="#1F68AC" stroke-opacity="0.6" stroke-width="0.5"/><path d="M343.23,356.5A1.75,1.75 0 0 0 346.73,356.5Z" fill="#1F68AC"/>
<circle cx="349.36" cy="354.4" r="1.65" fill="#fff" stroke="#1F68AC" stroke-opacity="0.6" stroke-width="0.5"/><path d="M347.61,354.3A1.75,1.75 0 0 0 351.11,354.3Z" fill="#1F68AC"/>
<circle cx="353.75" cy="349.3" r="1.65" fill="#fff" stroke="#1F68AC" stroke-opacity="0.6" stroke-width="0.5"/><path d="M352,349.2A1.75,1.75 0 0 0 355.5,349.2Z" fill="#1F68AC"/>
<circle cx="358.14" cy="359.5" r="1.65" fill="#fff" stroke="#1F68AC" stroke-opacity="0.6" stroke-width="0.5"/><path d="M356.39,359.4A1.75,1.75 0 0 0 359.89,359.4Z" fill="#1F68AC"/>
<circle cx="362.52" cy="358.6" r="1.65" fill="#fff" stroke="#1F68AC" stroke-opacity="0.6" stroke-width="0.5"/><path d="M360.77,358.5A1.75,1.75 0 0 0 364.27,358.5Z" fill="#1F68AC"/>
<circle cx="366.91" cy="360.3" r="1.65" fill="#fff" stroke="#1F68AC" stroke-opacity="0.6" stroke-width="0.5"/><path d="M365.16,360.2A1.75,1.75 0 0 0 368.66,360.2Z" fill="#1F68AC"/>
<circle cx="371.3" cy="362" r="1.65" fill="#fff" stroke="#1F68AC" stroke-opacity="0.6" stroke-width="0.5"/><path d="M369.55,361.9A1.75,1.75 0 0 0 373.05,361.9Z" fill="#1F68AC"/>
<circle cx="375.69" cy="367.1" r="1.65" fill="#fff" stroke="#1F68AC" stroke-opacity="0.6" stroke-width="0.5"/><path d="M373.94,367A1.75,1.75 0 0 0 377.44,367Z" fill="#1F68AC"/>
<circle cx="380.07" cy="362" r="1.65" fill="#fff" stroke="#1F68AC" stroke-opacity="0.6" stroke-width="0.5"/><path d="M378.32,361.9A1.75,1.75 0 0 0 381.82,361.9Z" fill="#1F68AC"/>
<circle cx="384.46" cy="370.1" r="1.65" fill="#fff" stroke="#1F68AC" stroke-opacity="0.6" stroke-width="0.5"/><path d="M382.71,370A1.75,1.75 0 0 0 386.21,370Z" fill="#1F68AC"/>
<circle cx="388.85" cy="376.4" r="1.65" fill="#fff" stroke="#1F68AC" stroke-opacity="0.6" stroke-width="0.5"/><path d="M387.1,376.3A1.75,1.75 0 0 0 390.6,376.3Z" fill="#1F68AC"/>
<circle cx="393.24" cy="378.2" r="1.65" fill="#fff" stroke="#1F68AC" stroke-opacity="0.6" stroke-width="0.5"/><path d="M391.49,378.1A1.75,1.75 0 0 0 394.99,378.1Z" fill="#1F68AC"/>
<circle cx="397.62" cy="380.2" r="1.65" fill="#fff" stroke="#1F68AC" stroke-opacity="0.6" stroke-width="0.5"/><path d="M395.88,380.1A1.75,1.75 0 0 0 399.38,380.1Z" fill="#1F68AC"/>
<circle cx="402.01" cy="379.5" r="1.65" fill="#fff" stroke="#1F68AC" stroke-opacity="0.6" stroke-width="0.5"/><path d="M400.26,379.4A1.75,1.75 0 0 0 403.76,379.4Z" fill="#1F68AC"/>
<circle cx="406.4" cy="371.9" r="1.65" fill="#fff" stroke="#1F68AC" stroke-opacity="0.6" stroke-width="0.5"/><path d="M404.65,371.8A1.75,1.75 0 0 0 408.15,371.8Z" fill="#1F68AC"/>
<circle cx="410.79" cy="384.3" r="1.65" fill="#fff" stroke="#1F68AC" stroke-opacity="0.6" stroke-width="0.5"/><path d="M409.04,384.2A1.75,1.75 0 0 0 412.54,384.2Z" fill="#1F68AC"/>
<circle cx="415.18" cy="387.1" r="1.65" fill="#fff" stroke="#1F68AC" stroke-opacity="0.6" stroke-width="0.5"/><path d="M413.43,387A1.75,1.75 0 0 0 416.93,387Z" fill="#1F68AC"/>
<circle cx="419.56" cy="384.9" r="1.65" fill="#fff" stroke="#1F68AC" stroke-opacity="0.6" stroke-width="0.5"/><path d="M417.81,384.8A1.75,1.75 0 0 0 421.31,384.8Z" fill="#1F68AC"/>
<circle cx="423.95" cy="383.7" r="1.65" fill="#fff" stroke="#1F68AC" stroke-opacity="0.6" stroke-width="0.5"/><path d="M422.2,383.6A1.75,1.75 0 0 0 425.7,383.6Z" fill="#1F68AC"/>
<circle cx="428.34" cy="385.6" r="1.65" fill="#fff" stroke="#1F68AC" stroke-opacity="0.6" stroke-width="0.5"/><path d="M426.59,385.5A1.75,1.75 0 0 0 430.09,385.5Z" fill="#1F68AC"/>
<circle cx="432.73" cy="388.1" r="1.65" fill="#fff" stroke="#1F68AC" stroke-opacity="0.6" stroke-width="0.5"/><path d="M430.98,388A1.75,1.75 0 0 0 434.48,388Z" fill="#1F68AC"/>
<circle cx="437.11" cy="386.6" r="1.65" fill="#fff" stroke="#1F68AC" stroke-opacity="0.6" stroke-width="0.5"/><path d="M435.36,386.5A1.75,1.75 0 0 0 438.86,386.5Z" fill="#1F68AC"/>
<circle cx="441.5" cy="382.4" r="1.65" fill="#fff" stroke="#1F68AC" stroke-opacity="0.6" stroke-width="0.5"/><path d="M439.75,382.3A1.75,1.75 0 0 0 443.25,382.3Z" fill="#1F68AC"/>
</g>
<rect x="266.0" y="256.4" width="175.5" height="203.9" fill="none" stroke="#5a5a5a" stroke-width="1"/>
<line x1="266" y1="460.3" x2="266" y2="457.3" stroke="#5a5a5a" stroke-width="1"/>
<text x="266" y="472.6" font-size="10.35" text-anchor="middle" fill="#1a1a1a">2020</text>
<line x1="287.94" y1="460.3" x2="287.94" y2="458.7" stroke="#5a5a5a" stroke-width="1"/>
<line x1="309.88" y1="460.3" x2="309.88" y2="457.3" stroke="#5a5a5a" stroke-width="1"/>
<text x="309.88" y="472.6" font-size="10.35" text-anchor="middle" fill="#1a1a1a">2030</text>
<line x1="331.81" y1="460.3" x2="331.81" y2="458.7" stroke="#5a5a5a" stroke-width="1"/>
<line x1="353.75" y1="460.3" x2="353.75" y2="457.3" stroke="#5a5a5a" stroke-width="1"/>
<text x="353.75" y="472.6" font-size="10.35" text-anchor="middle" fill="#1a1a1a">2040</text>
<line x1="375.69" y1="460.3" x2="375.69" y2="458.7" stroke="#5a5a5a" stroke-width="1"/>
<line x1="397.62" y1="460.3" x2="397.62" y2="457.3" stroke="#5a5a5a" stroke-width="1"/>
<text x="397.62" y="472.6" font-size="10.35" text-anchor="middle" fill="#1a1a1a">2050</text>
<line x1="419.56" y1="460.3" x2="419.56" y2="458.7" stroke="#5a5a5a" stroke-width="1"/>
<line x1="441.5" y1="460.3" x2="441.5" y2="457.3" stroke="#5a5a5a" stroke-width="1"/>
<text x="441.5" y="472.6" font-size="10.35" text-anchor="middle" fill="#1a1a1a">2060</text>
<line x1="266" y1="426.32" x2="269" y2="426.32" stroke="#5a5a5a" stroke-width="1"/>
<text x="262.2" y="429.92" font-size="10.3" text-anchor="end" fill="#1a1a1a">600</text>
<line x1="266" y1="358.35" x2="269" y2="358.35" stroke="#5a5a5a" stroke-width="1"/>
<text x="262.2" y="361.95" font-size="10.3" text-anchor="end" fill="#1a1a1a">800</text>
<line x1="266" y1="290.38" x2="269" y2="290.38" stroke="#5a5a5a" stroke-width="1"/>
<text x="262.2" y="293.98" font-size="10.3" text-anchor="end" fill="#1a1a1a">1000</text>
<line x1="266" y1="460.3" x2="267.6" y2="460.3" stroke="#5a5a5a" stroke-width="1"/>
<line x1="266" y1="392.33" x2="267.6" y2="392.33" stroke="#5a5a5a" stroke-width="1"/>
<line x1="266" y1="324.37" x2="267.6" y2="324.37" stroke="#5a5a5a" stroke-width="1"/>
<line x1="266" y1="256.4" x2="267.6" y2="256.4" stroke="#5a5a5a" stroke-width="1"/>
<text transform="translate(235.6,357.85) rotate(-90)" font-size="10.35" font-weight="bold" stroke-width="0.1" text-anchor="middle" fill="#1a1a1a">Trading price (Yuan)</text>
<line x1="394.3" y1="418.2" x2="418.0" y2="418.2" stroke="#E8772A" stroke-width="0.7"/>
<path d="M403.65,418.2L407.45,416.2L407.45,420.2Z" fill="#E8772A"/>
<text x="421.1" y="421.8" font-size="10" fill="#1a1a1a">S4</text>
<line x1="394.3" y1="431.0" x2="418.0" y2="431.0" stroke="#2C9E44" stroke-width="0.7"/>
<path d="M406.15,428.7L406.74,430.19L408.34,430.29L407.1,431.31L407.5,432.86L406.15,432L404.8,432.86L405.2,431.31L403.96,430.29L405.56,430.19Z" fill="#2C9E44"/>
<text x="421.1" y="434.6" font-size="10" fill="#1a1a1a">S5</text>
<line x1="394.3" y1="443.5" x2="418.0" y2="443.5" stroke="#1F68AC" stroke-width="0.7"/>
<circle cx="406.15" cy="443.5" r="1.65" fill="#fff" stroke="#1F68AC" stroke-opacity="0.6" stroke-width="0.5"/><path d="M404.4,443.4A1.75,1.75 0 0 0 407.9,443.4Z" fill="#1F68AC"/>
<text x="421.1" y="447.1" font-size="10" fill="#1a1a1a">S6</text>
<text x="589.5" y="250.6" font-size="10" text-anchor="middle" fill="#1a1a1a">(f)</text>
<clipPath id="clipf"><rect x="495.5" y="253.39999999999998" width="181.0" height="209.90000000000003"/></clipPath>
<g clip-path="url(#clipf)">
<polyline points="498.5,439.3 502.88,435.1 507.25,425.8 511.62,418.1 516,408.8 520.38,395 524.75,366.6 529.12,352.2 533.5,355.6 537.88,328.8 542.25,350.8 546.62,310.3 551,320.8 555.38,294.6 559.75,288.3 564.12,290.3 568.5,286.1 572.88,278.8 577.25,282.7 581.62,297.1 586,308.1 590.38,314 594.75,310.8 599.12,318.9 603.5,321 607.88,340.2 612.25,339.1 616.62,349.1 621,360.1 625.38,361.8 629.75,369.9 634.12,378.4 638.5,384.7 642.88,394.7 647.25,404.7 651.62,410.2 656,415.9 660.38,413.8 664.75,417.4 669.12,422.9 673.5,428.6" fill="none" stroke="#E8772A" stroke-width="0.8" stroke-linejoin="round"/>
<path d="M496,439.3L499.8,437.3L499.8,441.3Z" fill="#E8772A"/>
<path d="M500.38,435.1L504.18,433.1L504.18,437.1Z" fill="#E8772A"/>
<path d="M504.75,425.8L508.55,423.8L508.55,427.8Z" fill="#E8772A"/>
<path d="M509.12,418.1L512.92,416.1L512.92,420.1Z" fill="#E8772A"/>
<path d="M513.5,408.8L517.3,406.8L517.3,410.8Z" fill="#E8772A"/>
<path d="M517.88,395L521.67,393L521.67,397Z" fill="#E8772A"/>
<path d="M522.25,366.6L526.05,364.6L526.05,368.6Z" fill="#E8772A"/>
<path d="M526.62,352.2L530.42,350.2L530.42,354.2Z" fill="#E8772A"/>
<path d="M531,355.6L534.8,353.6L534.8,357.6Z" fill="#E8772A"/>
<path d="M535.38,328.8L539.17,326.8L539.17,330.8Z" fill="#E8772A"/>
<path d="M539.75,350.8L543.55,348.8L543.55,352.8Z" fill="#E8772A"/>
<path d="M544.12,310.3L547.92,308.3L547.92,312.3Z" fill="#E8772A"/>
<path d="M548.5,320.8L552.3,318.8L552.3,322.8Z" fill="#E8772A"/>
<path d="M552.88,294.6L556.67,292.6L556.67,296.6Z" fill="#E8772A"/>
<path d="M557.25,288.3L561.05,286.3L561.05,290.3Z" fill="#E8772A"/>
<path d="M561.62,290.3L565.42,288.3L565.42,292.3Z" fill="#E8772A"/>
<path d="M566,286.1L569.8,284.1L569.8,288.1Z" fill="#E8772A"/>
<path d="M570.38,278.8L574.17,276.8L574.17,280.8Z" fill="#E8772A"/>
<path d="M574.75,282.7L578.55,280.7L578.55,284.7Z" fill="#E8772A"/>
<path d="M579.12,297.1L582.92,295.1L582.92,299.1Z" fill="#E8772A"/>
<path d="M583.5,308.1L587.3,306.1L587.3,310.1Z" fill="#E8772A"/>
<path d="M587.88,314L591.67,312L591.67,316Z" fill="#E8772A"/>
<path d="M592.25,310.8L596.05,308.8L596.05,312.8Z" fill="#E8772A"/>
<path d="M596.62,318.9L600.42,316.9L600.42,320.9Z" fill="#E8772A"/>
<path d="M601,321L604.8,319L604.8,323Z" fill="#E8772A"/>
<path d="M605.38,340.2L609.17,338.2L609.17,342.2Z" fill="#E8772A"/>
<path d="M609.75,339.1L613.55,337.1L613.55,341.1Z" fill="#E8772A"/>
<path d="M614.12,349.1L617.92,347.1L617.92,351.1Z" fill="#E8772A"/>
<path d="M618.5,360.1L622.3,358.1L622.3,362.1Z" fill="#E8772A"/>
<path d="M622.88,361.8L626.67,359.8L626.67,363.8Z" fill="#E8772A"/>
<path d="M627.25,369.9L631.05,367.9L631.05,371.9Z" fill="#E8772A"/>
<path d="M631.62,378.4L635.42,376.4L635.42,380.4Z" fill="#E8772A"/>
<path d="M636,384.7L639.8,382.7L639.8,386.7Z" fill="#E8772A"/>
<path d="M640.38,394.7L644.17,392.7L644.17,396.7Z" fill="#E8772A"/>
<path d="M644.75,404.7L648.55,402.7L648.55,406.7Z" fill="#E8772A"/>
<path d="M649.12,410.2L652.92,408.2L652.92,412.2Z" fill="#E8772A"/>
<path d="M653.5,415.9L657.3,413.9L657.3,417.9Z" fill="#E8772A"/>
<path d="M657.88,413.8L661.67,411.8L661.67,415.8Z" fill="#E8772A"/>
<path d="M662.25,417.4L666.05,415.4L666.05,419.4Z" fill="#E8772A"/>
<path d="M666.62,422.9L670.42,420.9L670.42,424.9Z" fill="#E8772A"/>
<path d="M671,428.6L674.8,426.6L674.8,430.6Z" fill="#E8772A"/>
<polyline points="498.5,439.7 502.88,433.9 507.25,431.2 511.62,419 516,410.2 520.38,393.4 524.75,383 529.12,378.5 533.5,366.6 537.88,345.4 542.25,334.5 546.62,349 551,339.8 555.38,323.5 559.75,308.1 564.12,302.5 568.5,298.5 572.88,292.9 577.25,288.3 581.62,286.1 586,288.3 590.38,286.9 594.75,287.7 599.12,296.5 603.5,291 607.88,305.1 612.25,309.2 616.62,311.9 621,313.6 625.38,314.2 629.75,328.3 634.12,322 638.5,323.7 642.88,330.5 647.25,339.6 651.62,346.5 656,351.6 660.38,357.2 664.75,362.9 669.12,367.8 673.5,371.4" fill="none" stroke="#2C9E44" stroke-width="0.8" stroke-linejoin="round"/>
<path d="M498.5,437.4L499.09,438.89L500.69,438.99L499.45,440.01L499.85,441.56L498.5,440.7L497.15,441.56L497.55,440.01L496.31,438.99L497.91,438.89Z" fill="#2C9E44"/>
<path d="M502.88,431.6L503.46,433.09L505.06,433.19L503.83,434.21L504.23,435.76L502.88,434.9L501.52,435.76L501.92,434.21L500.69,433.19L502.29,433.09Z" fill="#2C9E44"/>
<path d="M507.25,428.9L507.84,430.39L509.44,430.49L508.2,431.51L508.6,433.06L507.25,432.2L505.9,433.06L506.3,431.51L505.06,430.49L506.66,430.39Z" fill="#2C9E44"/>
<path d="M511.62,416.7L512.21,418.19L513.81,418.29L512.58,419.31L512.98,420.86L511.62,420L510.27,420.86L510.67,419.31L509.44,418.29L511.04,418.19Z" fill="#2C9E44"/>
<path d="M516,407.9L516.59,409.39L518.19,409.49L516.95,410.51L517.35,412.06L516,411.2L514.65,412.06L515.05,410.51L513.81,409.49L515.41,409.39Z" fill="#2C9E44"/>
<path d="M520.38,391.1L520.96,392.59L522.56,392.69L521.33,393.71L521.73,395.26L520.38,394.4L519.02,395.26L519.42,393.71L518.19,392.69L519.79,392.59Z" fill="#2C9E44"/>
<path d="M524.75,380.7L525.34,382.19L526.94,382.29L525.7,383.31L526.1,384.86L524.75,384L523.4,384.86L523.8,383.31L522.56,382.29L524.16,382.19Z" fill="#2C9E44"/>
<path d="M529.12,376.2L529.71,377.69L531.31,377.79L530.08,378.81L530.48,380.36L529.12,379.5L527.77,380.36L528.17,378.81L526.94,377.79L528.54,377.69Z" fill="#2C9E44"/>
<path d="M533.5,364.3L534.09,365.79L535.69,365.89L534.45,366.91L534.85,368.46L533.5,367.6L532.15,368.46L532.55,366.91L531.31,365.89L532.91,365.79Z" fill="#2C9E44"/>
<path d="M537.88,343.1L538.46,344.59L540.06,344.69L538.83,345.71L539.23,347.26L537.88,346.4L536.52,347.26L536.92,345.71L535.69,344.69L537.29,344.59Z" fill="#2C9E44"/>
<path d="M542.25,332.2L542.84,333.69L544.44,333.79L543.2,334.81L543.6,336.36L542.25,335.5L540.9,336.36L541.3,334.81L540.06,333.79L541.66,333.69Z" fill="#2C9E44"/>
<path d="M546.62,346.7L547.21,348.19L548.81,348.29L547.58,349.31L547.98,350.86L546.62,350L545.27,350.86L545.67,349.31L544.44,348.29L546.04,348.19Z" fill="#2C9E44"/>
<path d="M551,337.5L551.59,338.99L553.19,339.09L551.95,340.11L552.35,341.66L551,340.8L549.65,341.66L550.05,340.11L548.81,339.09L550.41,338.99Z" fill="#2C9E44"/>
<path d="M555.38,321.2L555.96,322.69L557.56,322.79L556.33,323.81L556.73,325.36L555.38,324.5L554.02,325.36L554.42,323.81L553.19,322.79L554.79,322.69Z" fill="#2C9E44"/>
<path d="M559.75,305.8L560.34,307.29L561.94,307.39L560.7,308.41L561.1,309.96L559.75,309.1L558.4,309.96L558.8,308.41L557.56,307.39L559.16,307.29Z" fill="#2C9E44"/>
<path d="M564.12,300.2L564.71,301.69L566.31,301.79L565.08,302.81L565.48,304.36L564.12,303.5L562.77,304.36L563.17,302.81L561.94,301.79L563.54,301.69Z" fill="#2C9E44"/>
<path d="M568.5,296.2L569.09,297.69L570.69,297.79L569.45,298.81L569.85,300.36L568.5,299.5L567.15,300.36L567.55,298.81L566.31,297.79L567.91,297.69Z" fill="#2C9E44"/>
<path d="M572.88,290.6L573.46,292.09L575.06,292.19L573.83,293.21L574.23,294.76L572.88,293.9L571.52,294.76L571.92,293.21L570.69,292.19L572.29,292.09Z" fill="#2C9E44"/>
<path d="M577.25,286L577.84,287.49L579.44,287.59L578.2,288.61L578.6,290.16L577.25,289.3L575.9,290.16L576.3,288.61L575.06,287.59L576.66,287.49Z" fill="#2C9E44"/>
<path d="M581.62,283.8L582.21,285.29L583.81,285.39L582.58,286.41L582.98,287.96L581.62,287.1L580.27,287.96L580.67,286.41L579.44,285.39L581.04,285.29Z" fill="#2C9E44"/>
<path d="M586,286L586.59,287.49L588.19,287.59L586.95,288.61L587.35,290.16L586,289.3L584.65,290.16L585.05,288.61L583.81,287.59L585.41,287.49Z" fill="#2C9E44"/>
<path d="M590.38,284.6L590.96,286.09L592.56,286.19L591.33,287.21L591.73,288.76L590.38,287.9L589.02,288.76L589.42,287.21L588.19,286.19L589.79,286.09Z" fill="#2C9E44"/>
<path d="M594.75,285.4L595.34,286.89L596.94,286.99L595.7,288.01L596.1,289.56L594.75,288.7L593.4,289.56L593.8,288.01L592.56,286.99L594.16,286.89Z" fill="#2C9E44"/>
<path d="M599.12,294.2L599.71,295.69L601.31,295.79L600.08,296.81L600.48,298.36L599.12,297.5L597.77,298.36L598.17,296.81L596.94,295.79L598.54,295.69Z" fill="#2C9E44"/>
<path d="M603.5,288.7L604.09,290.19L605.69,290.29L604.45,291.31L604.85,292.86L603.5,292L602.15,292.86L602.55,291.31L601.31,290.29L602.91,290.19Z" fill="#2C9E44"/>
<path d="M607.88,302.8L608.46,304.29L610.06,304.39L608.83,305.41L609.23,306.96L607.88,306.1L606.52,306.96L606.92,305.41L605.69,304.39L607.29,304.29Z" fill="#2C9E44"/>
<path d="M612.25,306.9L612.84,308.39L614.44,308.49L613.2,309.51L613.6,311.06L612.25,310.2L610.9,311.06L611.3,309.51L610.06,308.49L611.66,308.39Z" fill="#2C9E44"/>
<path d="M616.62,309.6L617.21,311.09L618.81,311.19L617.58,312.21L617.98,313.76L616.62,312.9L615.27,313.76L615.67,312.21L614.44,311.19L616.04,311.09Z" fill="#2C9E44"/>
<path d="M621,311.3L621.59,312.79L623.19,312.89L621.95,313.91L622.35,315.46L621,314.6L619.65,315.46L620.05,313.91L618.81,312.89L620.41,312.79Z" fill="#2C9E44"/>
<path d="M625.38,311.9L625.96,313.39L627.56,313.49L626.33,314.51L626.73,316.06L625.38,315.2L624.02,316.06L624.42,314.51L623.19,313.49L624.79,313.39Z" fill="#2C9E44"/>
<path d="M629.75,326L630.34,327.49L631.94,327.59L630.7,328.61L631.1,330.16L629.75,329.3L628.4,330.16L628.8,328.61L627.56,327.59L629.16,327.49Z" fill="#2C9E44"/>
<path d="M634.12,319.7L634.71,321.19L636.31,321.29L635.08,322.31L635.48,323.86L634.12,323L632.77,323.86L633.17,322.31L631.94,321.29L633.54,321.19Z" fill="#2C9E44"/>
<path d="M638.5,321.4L639.09,322.89L640.69,322.99L639.45,324.01L639.85,325.56L638.5,324.7L637.15,325.56L637.55,324.01L636.31,322.99L637.91,322.89Z" fill="#2C9E44"/>
<path d="M642.88,328.2L643.46,329.69L645.06,329.79L643.83,330.81L644.23,332.36L642.88,331.5L641.52,332.36L641.92,330.81L640.69,329.79L642.29,329.69Z" fill="#2C9E44"/>
<path d="M647.25,337.3L647.84,338.79L649.44,338.89L648.2,339.91L648.6,341.46L647.25,340.6L645.9,341.46L646.3,339.91L645.06,338.89L646.66,338.79Z" fill="#2C9E44"/>
<path d="M651.62,344.2L652.21,345.69L653.81,345.79L652.58,346.81L652.98,348.36L651.62,347.5L650.27,348.36L650.67,346.81L649.44,345.79L651.04,345.69Z" fill="#2C9E44"/>
<path d="M656,349.3L656.59,350.79L658.19,350.89L656.95,351.91L657.35,353.46L656,352.6L654.65,353.46L655.05,351.91L653.81,350.89L655.41,350.79Z" fill="#2C9E44"/>
<path d="M660.38,354.9L660.96,356.39L662.56,356.49L661.33,357.51L661.73,359.06L660.38,358.2L659.02,359.06L659.42,357.51L658.19,356.49L659.79,356.39Z" fill="#2C9E44"/>
<path d="M664.75,360.6L665.34,362.09L666.94,362.19L665.7,363.21L666.1,364.76L664.75,363.9L663.4,364.76L663.8,363.21L662.56,362.19L664.16,362.09Z" fill="#2C9E44"/>
<path d="M669.12,365.5L669.71,366.99L671.31,367.09L670.08,368.11L670.48,369.66L669.12,368.8L667.77,369.66L668.17,368.11L666.94,367.09L668.54,366.99Z" fill="#2C9E44"/>
<path d="M673.5,369.1L674.09,370.59L675.69,370.69L674.45,371.71L674.85,373.26L673.5,372.4L672.15,373.26L672.55,371.71L671.31,370.69L672.91,370.59Z" fill="#2C9E44"/>
<polyline points="498.5,439.3 502.88,430 507.25,426.6 511.62,416.9 516,407.5 520.38,401 524.75,361 529.12,374.2 533.5,336.6 537.88,342.9 542.25,328.3 546.62,327.6 551,321.7 555.38,319.5 559.75,292.9 564.12,300.2 568.5,301.9 572.88,308.1 577.25,309 581.62,314.4 586,319.5 590.38,326.7 594.75,331.3 599.12,340 603.5,345.3 607.88,345.8 612.25,347.5 616.62,357.2 621,366.1 625.38,368.6 629.75,375 634.12,379.2 638.5,377.7 642.88,389.8 647.25,389 651.62,394.1 656,398.3 660.38,401.7 664.75,405.3 669.12,408.5 673.5,411" fill="none" stroke="#1F68AC" stroke-width="0.8" stroke-linejoin="round"/>
<circle cx="498.5" cy="439.3" r="1.65" fill="#fff" stroke="#1F68AC" stroke-opacity="0.6" stroke-width="0.5"/><path d="M496.75,439.2A1.75,1.75 0 0 0 500.25,439.2Z" fill="#1F68AC"/>
<circle cx="502.88" cy="430" r="1.65" fill="#fff" stroke="#1F68AC" stroke-opacity="0.6" stroke-width="0.5"/><path d="M501.12,429.9A1.75,1.75 0 0 0 504.62,429.9Z" fill="#1F68AC"/>
<circle cx="507.25" cy="426.6" r="1.65" fill="#fff" stroke="#1F68AC" stroke-opacity="0.6" stroke-width="0.5"/><path d="M505.5,426.5A1.75,1.75 0 0 0 509,426.5Z" fill="#1F68AC"/>
<circle cx="511.62" cy="416.9" r="1.65" fill="#fff" stroke="#1F68AC" stroke-opacity="0.6" stroke-width="0.5"/><path d="M509.88,416.8A1.75,1.75 0 0 0 513.38,416.8Z" fill="#1F68AC"/>
<circle cx="516" cy="407.5" r="1.65" fill="#fff" stroke="#1F68AC" stroke-opacity="0.6" stroke-width="0.5"/><path d="M514.25,407.4A1.75,1.75 0 0 0 517.75,407.4Z" fill="#1F68AC"/>
<circle cx="520.38" cy="401" r="1.65" fill="#fff" stroke="#1F68AC" stroke-opacity="0.6" stroke-width="0.5"/><path d="M518.62,400.9A1.75,1.75 0 0 0 522.12,400.9Z" fill="#1F68AC"/>
<circle cx="524.75" cy="361" r="1.65" fill="#fff" stroke="#1F68AC" stroke-opacity="0.6" stroke-width="0.5"/><path d="M523,360.9A1.75,1.75 0 0 0 526.5,360.9Z" fill="#1F68AC"/>
<circle cx="529.12" cy="374.2" r="1.65" fill="#fff" stroke="#1F68AC" stroke-opacity="0.6" stroke-width="0.5"/><path d="M527.38,374.1A1.75,1.75 0 0 0 530.88,374.1Z" fill="#1F68AC"/>
<circle cx="533.5" cy="336.6" r="1.65" fill="#fff" stroke="#1F68AC" stroke-opacity="0.6" stroke-width="0.5"/><path d="M531.75,336.5A1.75,1.75 0 0 0 535.25,336.5Z" fill="#1F68AC"/>
<circle cx="537.88" cy="342.9" r="1.65" fill="#fff" stroke="#1F68AC" stroke-opacity="0.6" stroke-width="0.5"/><path d="M536.12,342.8A1.75,1.75 0 0 0 539.62,342.8Z" fill="#1F68AC"/>
<circle cx="542.25" cy="328.3" r="1.65" fill="#fff" stroke="#1F68AC" stroke-opacity="0.6" stroke-width="0.5"/><path d="M540.5,328.2A1.75,1.75 0 0 0 544,328.2Z" fill="#1F68AC"/>
<circle cx="546.62" cy="327.6" r="1.65" fill="#fff" stroke="#1F68AC" stroke-opacity="0.6" stroke-width="0.5"/><path d="M544.88,327.5A1.75,1.75 0 0 0 548.38,327.5Z" fill="#1F68AC"/>
<circle cx="551" cy="321.7" r="1.65" fill="#fff" stroke="#1F68AC" stroke-opacity="0.6" stroke-width="0.5"/><path d="M549.25,321.6A1.75,1.75 0 0 0 552.75,321.6Z" fill="#1F68AC"/>
<circle cx="555.38" cy="319.5" r="1.65" fill="#fff" stroke="#1F68AC" stroke-opacity="0.6" stroke-width="0.5"/><path d="M553.62,319.4A1.75,1.75 0 0 0 557.12,319.4Z" fill="#1F68AC"/>
<circle cx="559.75" cy="292.9" r="1.65" fill="#fff" stroke="#1F68AC" stroke-opacity="0.6" stroke-width="0.5"/><path d="M558,292.8A1.75,1.75 0 0 0 561.5,292.8Z" fill="#1F68AC"/>
<circle cx="564.12" cy="300.2" r="1.65" fill="#fff" stroke="#1F68AC" stroke-opacity="0.6" stroke-width="0.5"/><path d="M562.38,300.1A1.75,1.75 0 0 0 565.88,300.1Z" fill="#1F68AC"/>
<circle cx="568.5" cy="301.9" r="1.65" fill="#fff" stroke="#1F68AC" stroke-opacity="0.6" stroke-width="0.5"/><path d="M566.75,301.8A1.75,1.75 0 0 0 570.25,301.8Z" fill="#1F68AC"/>
<circle cx="572.88" cy="308.1" r="1.65" fill="#fff" stroke="#1F68AC" stroke-opacity="0.6" stroke-width="0.5"/><path d="M571.12,308A1.75,1.75 0 0 0 574.62,308Z" fill="#1F68AC"/>
<circle cx="577.25" cy="309" r="1.65" fill="#fff" stroke="#1F68AC" stroke-opacity="0.6" stroke-width="0.5"/><path d="M575.5,308.9A1.75,1.75 0 0 0 579,308.9Z" fill="#1F68AC"/>
<circle cx="581.62" cy="314.4" r="1.65" fill="#fff" stroke="#1F68AC" stroke-opacity="0.6" stroke-width="0.5"/><path d="M579.88,314.3A1.75,1.75 0 0 0 583.38,314.3Z" fill="#1F68AC"/>
<circle cx="586" cy="319.5" r="1.65" fill="#fff" stroke="#1F68AC" stroke-opacity="0.6" stroke-width="0.5"/><path d="M584.25,319.4A1.75,1.75 0 0 0 587.75,319.4Z" fill="#1F68AC"/>
<circle cx="590.38" cy="326.7" r="1.65" fill="#fff" stroke="#1F68AC" stroke-opacity="0.6" stroke-width="0.5"/><path d="M588.62,326.6A1.75,1.75 0 0 0 592.12,326.6Z" fill="#1F68AC"/>
<circle cx="594.75" cy="331.3" r="1.65" fill="#fff" stroke="#1F68AC" stroke-opacity="0.6" stroke-width="0.5"/><path d="M593,331.2A1.75,1.75 0 0 0 596.5,331.2Z" fill="#1F68AC"/>
<circle cx="599.12" cy="340" r="1.65" fill="#fff" stroke="#1F68AC" stroke-opacity="0.6" stroke-width="0.5"/><path d="M597.38,339.9A1.75,1.75 0 0 0 600.88,339.9Z" fill="#1F68AC"/>
<circle cx="603.5" cy="345.3" r="1.65" fill="#fff" stroke="#1F68AC" stroke-opacity="0.6" stroke-width="0.5"/><path d="M601.75,345.2A1.75,1.75 0 0 0 605.25,345.2Z" fill="#1F68AC"/>
<circle cx="607.88" cy="345.8" r="1.65" fill="#fff" stroke="#1F68AC" stroke-opacity="0.6" stroke-width="0.5"/><path d="M606.12,345.7A1.75,1.75 0 0 0 609.62,345.7Z" fill="#1F68AC"/>
<circle cx="612.25" cy="347.5" r="1.65" fill="#fff" stroke="#1F68AC" stroke-opacity="0.6" stroke-width="0.5"/><path d="M610.5,347.4A1.75,1.75 0 0 0 614,347.4Z" fill="#1F68AC"/>
<circle cx="616.62" cy="357.2" r="1.65" fill="#fff" stroke="#1F68AC" stroke-opacity="0.6" stroke-width="0.5"/><path d="M614.88,357.1A1.75,1.75 0 0 0 618.38,357.1Z" fill="#1F68AC"/>
<circle cx="621" cy="366.1" r="1.65" fill="#fff" stroke="#1F68AC" stroke-opacity="0.6" stroke-width="0.5"/><path d="M619.25,366A1.75,1.75 0 0 0 622.75,366Z" fill="#1F68AC"/>
<circle cx="625.38" cy="368.6" r="1.65" fill="#fff" stroke="#1F68AC" stroke-opacity="0.6" stroke-width="0.5"/><path d="M623.62,368.5A1.75,1.75 0 0 0 627.12,368.5Z" fill="#1F68AC"/>
<circle cx="629.75" cy="375" r="1.65" fill="#fff" stroke="#1F68AC" stroke-opacity="0.6" stroke-width="0.5"/><path d="M628,374.9A1.75,1.75 0 0 0 631.5,374.9Z" fill="#1F68AC"/>
<circle cx="634.12" cy="379.2" r="1.65" fill="#fff" stroke="#1F68AC" stroke-opacity="0.6" stroke-width="0.5"/><path d="M632.38,379.1A1.75,1.75 0 0 0 635.88,379.1Z" fill="#1F68AC"/>
<circle cx="638.5" cy="377.7" r="1.65" fill="#fff" stroke="#1F68AC" stroke-opacity="0.6" stroke-width="0.5"/><path d="M636.75,377.6A1.75,1.75 0 0 0 640.25,377.6Z" fill="#1F68AC"/>
<circle cx="642.88" cy="389.8" r="1.65" fill="#fff" stroke="#1F68AC" stroke-opacity="0.6" stroke-width="0.5"/><path d="M641.12,389.7A1.75,1.75 0 0 0 644.62,389.7Z" fill="#1F68AC"/>
<circle cx="647.25" cy="389" r="1.65" fill="#fff" stroke="#1F68AC" stroke-opacity="0.6" stroke-width="0.5"/><path d="M645.5,388.9A1.75,1.75 0 0 0 649,388.9Z" fill="#1F68AC"/>
<circle cx="651.62" cy="394.1" r="1.65" fill="#fff" stroke="#1F68AC" stroke-opacity="0.6" stroke-width="0.5"/><path d="M649.88,394A1.75,1.75 0 0 0 653.38,394Z" fill="#1F68AC"/>
<circle cx="656" cy="398.3" r="1.65" fill="#fff" stroke="#1F68AC" stroke-opacity="0.6" stroke-width="0.5"/><path d="M654.25,398.2A1.75,1.75 0 0 0 657.75,398.2Z" fill="#1F68AC"/>
<circle cx="660.38" cy="401.7" r="1.65" fill="#fff" stroke="#1F68AC" stroke-opacity="0.6" stroke-width="0.5"/><path d="M658.62,401.6A1.75,1.75 0 0 0 662.12,401.6Z" fill="#1F68AC"/>
<circle cx="664.75" cy="405.3" r="1.65" fill="#fff" stroke="#1F68AC" stroke-opacity="0.6" stroke-width="0.5"/><path d="M663,405.2A1.75,1.75 0 0 0 666.5,405.2Z" fill="#1F68AC"/>
<circle cx="669.12" cy="408.5" r="1.65" fill="#fff" stroke="#1F68AC" stroke-opacity="0.6" stroke-width="0.5"/><path d="M667.38,408.4A1.75,1.75 0 0 0 670.88,408.4Z" fill="#1F68AC"/>
<circle cx="673.5" cy="411" r="1.65" fill="#fff" stroke="#1F68AC" stroke-opacity="0.6" stroke-width="0.5"/><path d="M671.75,410.9A1.75,1.75 0 0 0 675.25,410.9Z" fill="#1F68AC"/>
</g>
<rect x="498.5" y="256.4" width="175" height="203.9" fill="none" stroke="#5a5a5a" stroke-width="1"/>
<line x1="498.5" y1="460.3" x2="498.5" y2="457.3" stroke="#5a5a5a" stroke-width="1"/>
<text x="498.5" y="472.6" font-size="10.35" text-anchor="middle" fill="#1a1a1a">2020</text>
<line x1="520.38" y1="460.3" x2="520.38" y2="458.7" stroke="#5a5a5a" stroke-width="1"/>
<line x1="542.25" y1="460.3" x2="542.25" y2="457.3" stroke="#5a5a5a" stroke-width="1"/>
<text x="542.25" y="472.6" font-size="10.35" text-anchor="middle" fill="#1a1a1a">2030</text>
<line x1="564.12" y1="460.3" x2="564.12" y2="458.7" stroke="#5a5a5a" stroke-width="1"/>
<line x1="586" y1="460.3" x2="586" y2="457.3" stroke="#5a5a5a" stroke-width="1"/>
<text x="586" y="472.6" font-size="10.35" text-anchor="middle" fill="#1a1a1a">2040</text>
<line x1="607.88" y1="460.3" x2="607.88" y2="458.7" stroke="#5a5a5a" stroke-width="1"/>
<line x1="629.75" y1="460.3" x2="629.75" y2="457.3" stroke="#5a5a5a" stroke-width="1"/>
<text x="629.75" y="472.6" font-size="10.35" text-anchor="middle" fill="#1a1a1a">2050</text>
<line x1="651.62" y1="460.3" x2="651.62" y2="458.7" stroke="#5a5a5a" stroke-width="1"/>
<line x1="673.5" y1="460.3" x2="673.5" y2="457.3" stroke="#5a5a5a" stroke-width="1"/>
<text x="673.5" y="472.6" font-size="10.35" text-anchor="middle" fill="#1a1a1a">2060</text>
<line x1="498.5" y1="460.3" x2="501.5" y2="460.3" stroke="#5a5a5a" stroke-width="1"/>
<text x="494.7" y="463.9" font-size="10.3" text-anchor="end" fill="#1a1a1a">0</text>
<line x1="498.5" y1="400.33" x2="501.5" y2="400.33" stroke="#5a5a5a" stroke-width="1"/>
<text x="494.7" y="403.93" font-size="10.3" text-anchor="end" fill="#1a1a1a">50</text>
<line x1="498.5" y1="340.36" x2="501.5" y2="340.36" stroke="#5a5a5a" stroke-width="1"/>
<text x="494.7" y="343.96" font-size="10.3" text-anchor="end" fill="#1a1a1a">100</text>
<line x1="498.5" y1="280.39" x2="501.5" y2="280.39" stroke="#5a5a5a" stroke-width="1"/>
<text x="494.7" y="283.99" font-size="10.3" text-anchor="end" fill="#1a1a1a">150</text>
<line x1="498.5" y1="430.31" x2="500.1" y2="430.31" stroke="#5a5a5a" stroke-width="1"/>
<line x1="498.5" y1="370.34" x2="500.1" y2="370.34" stroke="#5a5a5a" stroke-width="1"/>
<line x1="498.5" y1="310.37" x2="500.1" y2="310.37" stroke="#5a5a5a" stroke-width="1"/>
<text transform="translate(471.6,354.75) rotate(-90)" font-size="10.48" font-weight="bold" stroke-width="0.1" text-anchor="middle" fill="#1a1a1a">Transaction amounts (million Yuan)</text>
<line x1="630.2" y1="268.4" x2="654.0" y2="268.4" stroke="#E8772A" stroke-width="0.7"/>
<path d="M639.6,268.4L643.4,266.4L643.4,270.4Z" fill="#E8772A"/>
<text x="656.9" y="272" font-size="10" fill="#1a1a1a">S4</text>
<line x1="630.2" y1="281.3" x2="654.0" y2="281.3" stroke="#2C9E44" stroke-width="0.7"/>
<path d="M642.1,279L642.69,280.49L644.29,280.59L643.05,281.61L643.45,283.16L642.1,282.3L640.75,283.16L641.15,281.61L639.91,280.59L641.51,280.49Z" fill="#2C9E44"/>
<text x="656.9" y="284.9" font-size="10" fill="#1a1a1a">S5</text>
<line x1="630.2" y1="294.6" x2="654.0" y2="294.6" stroke="#1F68AC" stroke-width="0.7"/>
<circle cx="642.1" cy="294.6" r="1.65" fill="#fff" stroke="#1F68AC" stroke-opacity="0.6" stroke-width="0.5"/><path d="M640.35,294.5A1.75,1.75 0 0 0 643.85,294.5Z" fill="#1F68AC"/>
<text x="656.9" y="298.2" font-size="10" fill="#1a1a1a">S6</text>
</svg>
</body></html>
